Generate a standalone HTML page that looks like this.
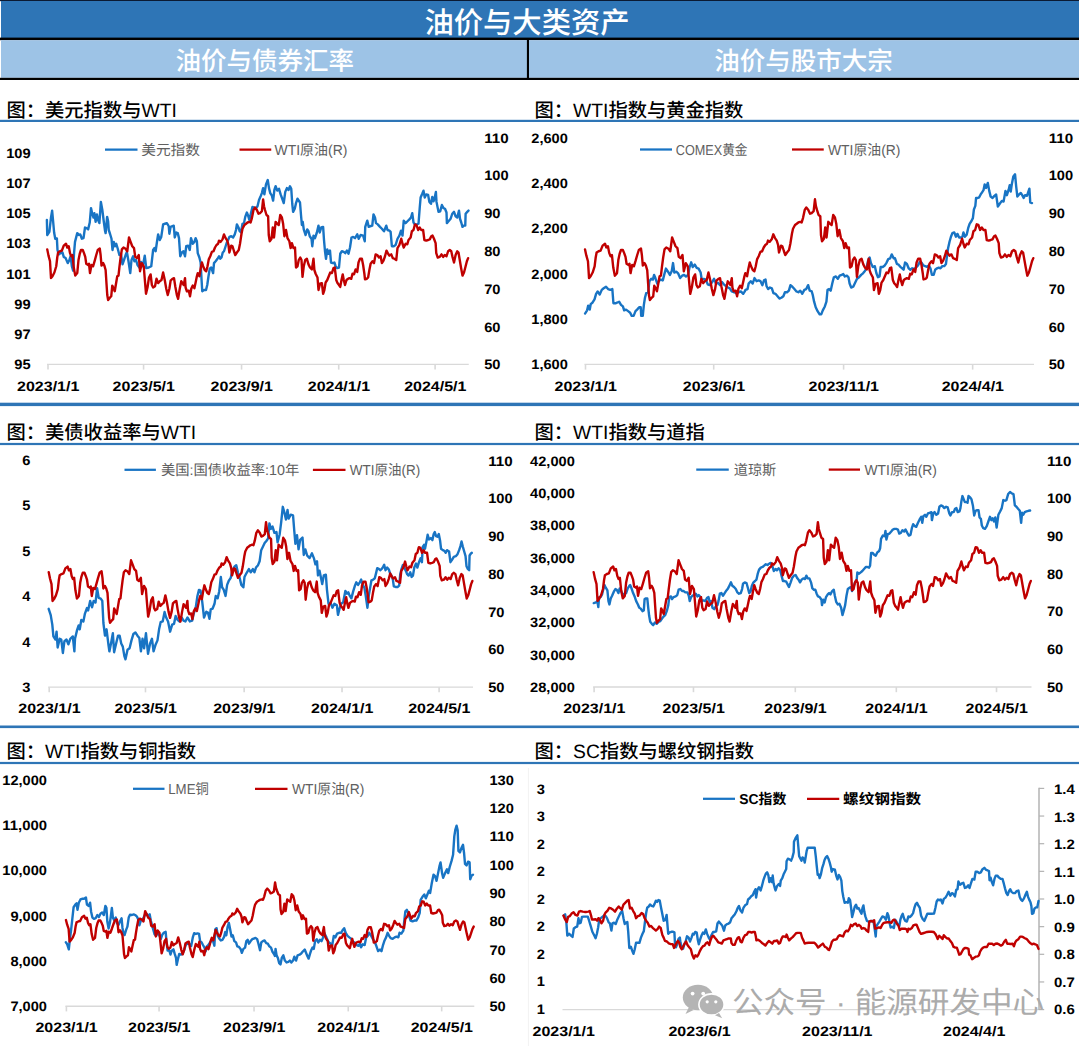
<!DOCTYPE html>
<html lang="zh-CN"><head><meta charset="utf-8"><title>油价与大类资产</title>
<style>html,body{margin:0;padding:0;background:#fff}body{width:1080px;height:1046px;overflow:hidden}svg{display:block}</style></head>
<body>
<svg width="1080" height="1046" viewBox="0 0 1080 1046" font-family='"Liberation Sans", "Noto Sans CJK SC", sans-serif' text-rendering="geometricPrecision">
<rect x="0" y="0" width="1079" height="1.2" fill="#0b1a33"/>
<rect x="1" y="1" width="1078" height="37" fill="#2E75B6"/>
<rect x="0" y="37.6" width="1079" height="2.6" fill="#000"/>
<rect x="1" y="40.2" width="1078" height="37.6" fill="#9DC3E6"/>
<rect x="0" y="77.8" width="1079" height="2.2" fill="#000"/>
<rect x="526.9" y="40" width="2.1" height="38" fill="#000"/>
<text x="527" y="33.1" font-size="29.3" font-weight="500" fill="#fff" text-anchor="middle">油价与大类资产</text>
<text x="264.7" y="69.6" font-size="25.5" font-weight="500" fill="#fff" text-anchor="middle">油价与债券汇率</text>
<text x="803.5" y="69.6" font-size="25.5" font-weight="500" fill="#fff" text-anchor="middle">油价与股市大宗</text>
<text x="6.5" y="116.6" font-size="19.3" font-weight="500" fill="#000">图：美元指数与WTI</text>
<text x="534.5" y="116.6" font-size="19.3" font-weight="500" fill="#000">图：WTI指数与黄金指数</text>
<rect x="0" y="119.8" width="1079" height="2.2" fill="#2E75B6"/>
<rect x="0" y="402.7" width="1079" height="3.4" fill="#2E75B6"/>
<text x="6.5" y="438.9" font-size="19.3" font-weight="500" fill="#000">图：美债收益率与WTI</text>
<text x="534.5" y="438.9" font-size="19.3" font-weight="500" fill="#000">图：WTI指数与道指</text>
<rect x="0" y="442.9" width="1079" height="2.2" fill="#2E75B6"/>
<rect x="0" y="725.5" width="1079" height="2.6" fill="#2E75B6"/>
<text x="6.5" y="757.6" font-size="19.3" font-weight="500" fill="#000">图：WTI指数与铜指数</text>
<text x="534.5" y="757.6" font-size="19.3" font-weight="500" fill="#000">图：SC指数与螺纹钢指数</text>
<rect x="0" y="761.9" width="1079" height="2.2" fill="#2E75B6"/>
<line x1="47" y1="364.4" x2="468.75" y2="364.4" stroke="#D9D9D9" stroke-width="1.4"/>
<line x1="48" y1="364.4" x2="48" y2="369.6" stroke="#D9D9D9" stroke-width="1.6"/>
<text x="48.2" y="391.1" font-size="13.7" font-weight="bold" fill="#000" text-anchor="middle" textLength="62.3" lengthAdjust="spacingAndGlyphs">2023/1/1</text>
<line x1="143.58" y1="364.4" x2="143.58" y2="369.6" stroke="#D9D9D9" stroke-width="1.6"/>
<text x="143.78" y="391.1" font-size="13.7" font-weight="bold" fill="#000" text-anchor="middle" textLength="62.3" lengthAdjust="spacingAndGlyphs">2023/5/1</text>
<line x1="241.55" y1="364.4" x2="241.55" y2="369.6" stroke="#D9D9D9" stroke-width="1.6"/>
<text x="241.75" y="391.1" font-size="13.7" font-weight="bold" fill="#000" text-anchor="middle" textLength="62.3" lengthAdjust="spacingAndGlyphs">2023/9/1</text>
<line x1="338.72" y1="364.4" x2="338.72" y2="369.6" stroke="#D9D9D9" stroke-width="1.6"/>
<text x="338.92" y="391.1" font-size="13.7" font-weight="bold" fill="#000" text-anchor="middle" textLength="62.3" lengthAdjust="spacingAndGlyphs">2024/1/1</text>
<line x1="435.1" y1="364.4" x2="435.1" y2="369.6" stroke="#D9D9D9" stroke-width="1.6"/>
<text x="435.3" y="391.1" font-size="13.7" font-weight="bold" fill="#000" text-anchor="middle" textLength="62.3" lengthAdjust="spacingAndGlyphs">2024/5/1</text>
<text x="30.6" y="157.7" font-size="13.7" font-weight="bold" fill="#000" text-anchor="end" textLength="24.45" lengthAdjust="spacingAndGlyphs">109</text>
<text x="30.6" y="187.93" font-size="13.7" font-weight="bold" fill="#000" text-anchor="end" textLength="24.45" lengthAdjust="spacingAndGlyphs">107</text>
<text x="30.6" y="218.16" font-size="13.7" font-weight="bold" fill="#000" text-anchor="end" textLength="24.45" lengthAdjust="spacingAndGlyphs">105</text>
<text x="30.6" y="248.39" font-size="13.7" font-weight="bold" fill="#000" text-anchor="end" textLength="24.45" lengthAdjust="spacingAndGlyphs">103</text>
<text x="30.6" y="278.61" font-size="13.7" font-weight="bold" fill="#000" text-anchor="end" textLength="24.45" lengthAdjust="spacingAndGlyphs">101</text>
<text x="30.6" y="308.84" font-size="13.7" font-weight="bold" fill="#000" text-anchor="end" textLength="16.3" lengthAdjust="spacingAndGlyphs">99</text>
<text x="30.6" y="339.07" font-size="13.7" font-weight="bold" fill="#000" text-anchor="end" textLength="16.3" lengthAdjust="spacingAndGlyphs">97</text>
<text x="30.6" y="369.3" font-size="13.7" font-weight="bold" fill="#000" text-anchor="end" textLength="16.3" lengthAdjust="spacingAndGlyphs">95</text>
<text x="484.2" y="142.6" font-size="13.7" font-weight="bold" fill="#000" textLength="24.45" lengthAdjust="spacingAndGlyphs">110</text>
<text x="484.2" y="180.38" font-size="13.7" font-weight="bold" fill="#000" textLength="24.45" lengthAdjust="spacingAndGlyphs">100</text>
<text x="484.2" y="218.17" font-size="13.7" font-weight="bold" fill="#000" textLength="16.3" lengthAdjust="spacingAndGlyphs">90</text>
<text x="484.2" y="255.95" font-size="13.7" font-weight="bold" fill="#000" textLength="16.3" lengthAdjust="spacingAndGlyphs">80</text>
<text x="484.2" y="293.73" font-size="13.7" font-weight="bold" fill="#000" textLength="16.3" lengthAdjust="spacingAndGlyphs">70</text>
<text x="484.2" y="331.52" font-size="13.7" font-weight="bold" fill="#000" textLength="16.3" lengthAdjust="spacingAndGlyphs">60</text>
<text x="484.2" y="369.3" font-size="13.7" font-weight="bold" fill="#000" textLength="16.3" lengthAdjust="spacingAndGlyphs">50</text>
<polyline points="46.88,220 47.25,235 49.38,231.88 51,217.5 52.12,210.62 53.12,221.25 54.12,232.5 55.25,238.75 56.88,238.5 57.5,250 58.75,254.38 60.62,253.12 62.5,252.5 63.75,256.88 65.62,258.12 67.75,263.12 69.38,260 70.62,256.25 71.88,266.25 73.12,270.62 74,253.75 75,241.88 77.25,233.12 78.75,235 80.25,234.38 81.88,238.75 83.5,238.12 85,227.5 86.5,228.12 88.12,229.38 89.75,222.5 91,208.12 92.25,213.75 93.5,217.5 94.38,213.12 95.62,221.88 96.88,214.38 98.12,220 99.38,223.12 100.88,201.88 102.25,209.38 103.75,221.25 105,230.62 105.62,233.12 107.12,216.88 108.12,221.25 108.75,230 110,233.75 111.5,238.75 112.5,250 113.75,241.88 115,246.25 116.25,243.75 117.75,248.75 119.38,255 121,253.75 122.5,264.38 124,260 125.62,255 126.88,251.88 128.5,261.25 130.25,273.12 131.5,260 133.12,256.25 134.38,261.25 136,260 137.5,265 139.38,267.5 141,261.88 142.75,266.25 144.75,255.62 146.25,268.12 148.75,267.5 151.25,266.25 153.12,250 154.38,248.12 155.62,251.25 156.88,242.5 158.12,234.38 159.75,240 161.25,236.88 163.12,224.38 165,223.75 166.88,223.12 168.75,226.25 169.38,233.75 170.62,226.88 173.75,225.62 174.75,237.5 176.25,232.5 177.75,233.12 179,238.12 180.25,256.25 181.88,252.5 183.5,251.25 185,256.25 186.25,246.25 188.12,245.62 189.75,250 191,238.12 192.75,243.75 194.38,241.88 195.62,238.12 196.88,241.25 197.75,253.12 199.38,257.5 200.62,262.5 201.5,278.75 202.25,291.25 204,290 206,290 207.25,285 208.5,276.25 209.75,268.75 211.25,267.5 213.12,273.12 214,263.12 215.62,261.25 217.5,258.75 219,256.25 220.25,258.75 221.5,257.5 222.75,252.5 224,251.25 225.62,246.25 226.88,242.5 228.12,240 229.38,236.88 231.25,236.25 233.12,237.5 234.75,234.38 236,230 236.88,224.38 238.5,227.5 239.75,231.25 241,232.5 242.5,223.75 244,223.12 245.25,216.88 246.88,212.5 248.12,215.62 249.38,220 251,213.12 252.5,206.88 254,207.5 255.62,208.75 257.5,206.25 259,200 260.62,196.25 261.88,193.12 263.12,188.12 264.38,194.38 266,184.38 267.75,180 269,188.12 270.25,193.12 271.88,195.62 273.12,200.62 274.38,190 275.62,186.25 277.25,190.62 279,188.75 280.62,194.38 282.25,198.75 283.75,203.12 285.25,191.88 286.88,188.12 288.5,190 290,186.25 291.25,188.75 292.25,203.75 293.12,211.88 294.75,208.75 296,203.12 297.5,198.75 300,202.5 301,215 301.88,225 302.75,221.88 303.75,229.38 305.62,235 307.25,229.38 308.5,231.25 309.75,236.25 311.5,238.75 312.25,246.25 313.5,235.62 315,238.12 316.88,232.5 318.5,225.62 319.75,232.5 321.25,227.5 323.12,226.88 324,240 325,251.25 326,258.75 327.25,249.38 328.5,253.75 330,250.62 331,262.5 332.75,263.12 334.38,262.5 335.62,266.25 337.25,268.12 339,267.5 340.25,253.75 341.88,251.25 343.75,251.88 345.25,253.12 346.88,250.62 348.5,253.75 350,247.5 351.5,237.5 353.12,236.88 355,238.12 357.25,234.38 358.75,238.75 360.62,235 363.12,235.62 364.75,241.25 365.25,226.88 367.25,220.62 368.75,226.88 370.25,226.25 372.25,225.62 373.5,214.38 375,217.5 376,223.12 377.75,224.38 380,226.88 381.88,228.75 384,231.25 386.25,225.62 387.5,230 389.38,230.62 390.62,231.88 391.88,246.25 393.75,246.25 395.62,245 397.5,238.75 399.38,235.62 401,230.62 402.5,235.62 403.75,220.62 405.62,223.12 407.5,221.25 409.38,219.38 411,217.5 412.25,213.12 413.5,222.5 415,224.38 416.88,224.38 418.5,223.75 419.75,207.5 420.62,197.5 422.25,193.75 423.5,190.62 424.75,197.5 426.25,194.38 428.12,195 429.38,201.88 431,203.75 432.25,196.88 433.5,201.25 434.75,197.5 435.88,191.88 436.5,201.88 437.5,206.88 438.5,211.88 440.25,211.25 441.88,205 443.5,208.12 445,208.75 446.5,212.5 446.88,223.12 448.5,221.25 450.62,218.75 452.25,213.75 454,211.88 455.62,216.25 457.25,217.5 459,210.62 460,218.75 461.25,222.5 462.5,226.88 463.75,225.62 465.25,225.62 465.62,213.75 467.25,211.88 468.5,210.62" fill="none" stroke="#1874C4" stroke-width="2.4" stroke-linejoin="round" stroke-linecap="round"/>
<polyline points="47.25,249.38 48.5,255.62 50,261.25 51,278.12 52.5,276.25 54.38,272.5 56.25,266.25 57.25,257.5 58.12,252.5 60,251.25 61.88,250.62 63.75,245.62 66,243.75 67.25,247.5 68.75,246.25 70,253.12 71.25,256.25 72.5,255 73.75,267.5 75.25,275.62 77.25,273.12 78.5,260 79.75,253.75 81,250 82.75,250 84,253.12 85.25,256.88 86.25,263.75 88.12,265 89,263.75 90,273.12 91.5,265 93.12,266.25 94.75,260.62 96.25,255 97.75,250 99.75,248.5 100.62,255 101.5,265.62 103.12,263.12 104.38,265.62 105.62,270 106.5,283.75 107.25,295 108.12,300 110,297.5 111.25,296.25 112.25,285.62 113.75,288.75 114.75,291.25 116,283.75 117.25,276.25 118.5,275.62 119.38,267.5 120.62,257.5 121.88,249.38 123.5,247.5 125.62,248.75 127.25,251.25 129,237.5 130.62,241.88 132.25,246.25 134,248.12 135.25,256.88 136.88,258.12 138.75,255 140,271.25 141.88,263.12 143.75,266.25 144.75,278.75 146,293.75 147.5,287.5 149,277.5 150.62,274.38 151.88,285 153.12,287.5 155,286.25 156.5,278.75 158.12,283.12 159.75,281.25 161.5,280 163.12,272.5 164.75,280 166.25,288.75 167.75,295 169.38,288.75 170.62,280.62 172.5,278.75 174,278.12 175.25,286.25 176.88,295 178.12,298.75 179.75,288.75 181.25,281.25 182.5,283.12 183.75,285 185,278.12 185.62,287.5 186.88,291.25 188.75,290.62 190,296.25 191.25,288.75 192.75,285.62 194.38,288.12 195.62,282.5 196.88,276.25 197.75,273.12 199.38,276.25 200.62,268.75 201.88,262.5 203.12,266.25 204.75,270 206.25,271.25 207.5,266.25 208.75,259.38 210.25,256.25 211.88,251.88 213.5,251.25 215,247.5 216.5,245 218.12,243.75 219,240.62 220.62,241.88 222.5,239.38 224,234.38 225.62,238.12 227.25,240.62 228.5,245 229.38,252.5 231.25,245.62 232.5,246.25 234,251.25 235.25,255 236.88,252.5 238.75,250 240,243.75 241.5,233.75 242.5,228.75 244.38,225 246,223.75 247.5,222.5 249.38,221.88 250.62,222.5 251.88,218.12 253.5,210 255,207.5 256.88,210 258.5,213.75 260,213.12 261.88,211.25 263.12,199.38 264,206.25 265,210 266.5,215 268.12,216.25 268.75,235 269.75,241.25 271.5,238.75 272.75,227.5 274,237.5 275.62,221.88 277.25,223.75 278.75,225 280.25,215 281.88,217.5 283.12,223.75 284.38,236.25 286,230 287.5,238.12 289.38,241.25 290.62,248.12 291.88,243.12 293.5,248.12 295,247.5 296,267.5 297.5,266.25 298.75,260 300.25,257.5 301.5,260 302.5,276.88 303.75,266.25 305.25,260 306.88,258.75 308.5,264.38 310,267.5 311.88,269.38 313.5,258.75 314.38,270 315.62,273.75 317.5,277.5 318.5,290 320,283.75 321.88,283.12 323.12,293.75 324.38,290 325.62,282.5 327.25,280 328.75,276.25 330.25,272.5 331.88,273.12 333.5,268.12 334.75,267.5 336.25,280 337.5,283.12 339,285 340.25,286.88 341.5,280 342.75,274.38 343.75,280 345,285 346.5,280 348.12,278.75 349.38,278.12 351.25,278.75 352.5,273.75 354,274.38 355.62,269.38 357.25,271.88 358.5,262.5 360,258.75 361.88,258.75 363.12,265 364.38,273.75 365,279.38 366.88,278.75 368.12,277.5 369.38,270 370.62,263.75 372.5,261.25 374,263.12 375.62,254.38 377.25,255 379,257.5 380.62,256.25 381.88,263.12 383.5,260.62 385,256.25 386.5,250.62 388.12,253.75 389.38,255.62 391.25,254.38 392.75,258.12 394.38,258.75 396.25,260 397.5,248.12 399.38,245 401.25,238.75 402.5,243.75 403.75,247.5 405.62,243.75 407.25,244.38 408.5,240 410.62,237.5 411.88,231.25 413.5,230 414.75,225 415,224.38 416.5,225 418.12,230 419.75,227.5 421.25,230 423.12,230 424.38,240 426.25,240.62 428.12,240 429.75,239.38 431.25,236.25 432.5,235.62 434,238.75 435.62,243.12 436.25,253.12 437.75,257.5 439.75,256.88 441.5,254.38 443.12,256.88 444.75,255 446.5,256.25 448.12,251.25 449.75,250 451.25,251.25 452.5,256.88 454,262.5 455.62,255 457.25,251.25 458.5,252.5 459.75,260 461,267.5 462.5,275.62 464,272.5 465.62,266.25 466.88,261.25 468.12,258.12" fill="none" stroke="#C00000" stroke-width="2.4" stroke-linejoin="round" stroke-linecap="round"/>
<line x1="105" y1="149.5" x2="137.5" y2="149.5" stroke="#1874C4" stroke-width="2.25"/>
<text x="141.25" y="154.5" font-size="14.4" fill="#606060" textLength="58.75" lengthAdjust="spacingAndGlyphs">美元指数</text>
<line x1="239.5" y1="149.5" x2="271.25" y2="149.5" stroke="#C00000" stroke-width="2.25"/>
<text x="274.5" y="154.5" font-size="14.4" fill="#606060" textLength="73" lengthAdjust="spacingAndGlyphs">WTI原油(R)</text>
<line x1="584.5" y1="364.4" x2="1034" y2="364.4" stroke="#D9D9D9" stroke-width="1.4"/>
<line x1="585.5" y1="364.4" x2="585.5" y2="369.6" stroke="#D9D9D9" stroke-width="1.6"/>
<text x="585.7" y="391.1" font-size="13.7" font-weight="bold" fill="#000" text-anchor="middle" textLength="62.3" lengthAdjust="spacingAndGlyphs">2023/1/1</text>
<line x1="713.7" y1="364.4" x2="713.7" y2="369.6" stroke="#D9D9D9" stroke-width="1.6"/>
<text x="713.9" y="391.1" font-size="13.7" font-weight="bold" fill="#000" text-anchor="middle" textLength="62.3" lengthAdjust="spacingAndGlyphs">2023/6/1</text>
<line x1="843.6" y1="364.4" x2="843.6" y2="369.6" stroke="#D9D9D9" stroke-width="1.6"/>
<text x="843.8" y="391.1" font-size="13.7" font-weight="bold" fill="#000" text-anchor="middle" textLength="70.45" lengthAdjust="spacingAndGlyphs">2023/11/1</text>
<line x1="972.65" y1="364.4" x2="972.65" y2="369.6" stroke="#D9D9D9" stroke-width="1.6"/>
<text x="972.85" y="391.1" font-size="13.7" font-weight="bold" fill="#000" text-anchor="middle" textLength="62.3" lengthAdjust="spacingAndGlyphs">2024/4/1</text>
<text x="567.9" y="142.6" font-size="13.7" font-weight="bold" fill="#000" text-anchor="end" textLength="36.6" lengthAdjust="spacingAndGlyphs">2,600</text>
<text x="567.9" y="187.94" font-size="13.7" font-weight="bold" fill="#000" text-anchor="end" textLength="36.6" lengthAdjust="spacingAndGlyphs">2,400</text>
<text x="567.9" y="233.28" font-size="13.7" font-weight="bold" fill="#000" text-anchor="end" textLength="36.6" lengthAdjust="spacingAndGlyphs">2,200</text>
<text x="567.9" y="278.62" font-size="13.7" font-weight="bold" fill="#000" text-anchor="end" textLength="36.6" lengthAdjust="spacingAndGlyphs">2,000</text>
<text x="567.9" y="323.96" font-size="13.7" font-weight="bold" fill="#000" text-anchor="end" textLength="36.6" lengthAdjust="spacingAndGlyphs">1,800</text>
<text x="567.9" y="369.3" font-size="13.7" font-weight="bold" fill="#000" text-anchor="end" textLength="36.6" lengthAdjust="spacingAndGlyphs">1,600</text>
<text x="1048.7" y="142.6" font-size="13.7" font-weight="bold" fill="#000" textLength="24.45" lengthAdjust="spacingAndGlyphs">110</text>
<text x="1048.7" y="180.38" font-size="13.7" font-weight="bold" fill="#000" textLength="24.45" lengthAdjust="spacingAndGlyphs">100</text>
<text x="1048.7" y="218.17" font-size="13.7" font-weight="bold" fill="#000" textLength="16.3" lengthAdjust="spacingAndGlyphs">90</text>
<text x="1048.7" y="255.95" font-size="13.7" font-weight="bold" fill="#000" textLength="16.3" lengthAdjust="spacingAndGlyphs">80</text>
<text x="1048.7" y="293.73" font-size="13.7" font-weight="bold" fill="#000" textLength="16.3" lengthAdjust="spacingAndGlyphs">70</text>
<text x="1048.7" y="331.52" font-size="13.7" font-weight="bold" fill="#000" textLength="16.3" lengthAdjust="spacingAndGlyphs">60</text>
<text x="1048.7" y="369.3" font-size="13.7" font-weight="bold" fill="#000" textLength="16.3" lengthAdjust="spacingAndGlyphs">50</text>
<polyline points="585.05,313.53 587.1,310.37 588.2,305.64 589.78,309.59 590.72,304.07 592.62,302.49 594.51,299.34 596.09,293.82 597.66,291.45 599.71,294.6 601.76,289.87 603.66,288.3 606.02,286.72 608.07,289.08 610.28,289.87 612.33,289.08 613.43,303.28 615.48,303.28 617.53,302.49 619.11,301.7 621,304.85 622.9,306.43 624.16,310.37 626.05,309.59 628.1,311.16 630.15,312.74 631.73,315.89 633.62,315.89 635.51,311.16 637.09,309.59 639.14,307.22 640.72,307.22 641.19,315.89 642.77,315.89 643.87,304.85 644.97,297.76 646.24,293.03 648.13,292.24 649.39,281.2 651.28,278.83 652.86,279.62 654.12,274.89 655.38,278.05 657.27,283.56 658.85,281.2 660.74,279.62 662.79,280.41 664.37,274.1 665.95,268.58 668,271.74 669.89,274.89 671.78,270.95 673.05,263.06 674.31,272.53 676.51,271.74 678.09,273.31 680.14,278.05 682.19,275.68 684.08,274.89 685.98,276.47 688.03,274.89 689.6,267.01 691.18,262.27 692.76,267.01 694.81,264.64 696.7,267.79 698.59,268.58 700.64,272.53 701.75,279.62 703.8,278.83 705.85,279.62 707.74,284.35 709.63,285.14 711.68,282.78 714.05,278.83 715.94,283.56 717.99,282.78 720.04,285.14 721.93,281.99 723.83,284.35 725.88,285.93 727.93,287.51 729.82,288.3 731.71,291.45 734.23,292.24 736.13,293.03 738.49,292.24 740.86,291.45 743.22,293.82 744.8,291.45 745.52,289.87 747.57,289.08 748.67,283.56 750.72,281.2 752.62,283.56 754.51,278.05 756.56,281.2 758.61,280.41 760.5,281.2 762.39,285.14 763.97,280.41 765.55,279.62 766.49,285.93 768.07,289.08 769.96,287.51 771.86,288.3 773.43,293.03 775.48,293.82 777.53,296.18 779.43,298.55 781.32,297.76 783.37,296.18 784.95,292.24 787,292.24 788.89,290.66 790.47,285.14 792.36,286.72 794.41,289.08 796.46,291.45 798.35,292.24 800.24,290.66 802.29,293.82 804.34,289.87 806.24,289.08 808.13,285.14 809.71,290.66 811.76,291.45 812.86,295.39 814.12,301.7 815.7,307.22 817.59,311.16 819.64,314.32 821.22,314.32 822.79,310.37 824.84,306.43 826.42,301.7 827.53,289.87 829.1,289.08 830.68,290.66 832.26,283.56 833.83,277.26 835.88,276.47 837.78,278.83 839.67,275.68 841.72,274.89 843.3,274.1 844.87,276.47 846.92,275.68 848.5,277.26 849.6,283.56 851.18,287.51 853.23,286.72 855.12,282.78 857.02,278.83 859.07,277.26 861.12,274.89 863.01,273.31 864.9,270.95 866.48,268.58 868.06,260.7 869.63,257.54 870.89,263.06 872.79,267.01 874.84,266.22 876.41,273.31 877.99,277.26 879.57,276.47 880.67,267.01 882.72,267.01 884.77,265.43 886.35,263.06 888.24,259.12 890.13,258.33 891.71,254.39 893.76,258.33 895.02,258.26 896.88,263.99 898.6,264.71 900.33,266.86 902.19,268.29 903.62,269.73 905.06,262.56 906.92,263.99 908.64,268.29 910.36,269.73 912.23,268.29 914.38,269.01 916.1,267.58 917.97,265.43 919.83,261.84 921.55,262.56 923.27,265.43 925.14,266.14 927,266.86 928.72,265.43 930.44,268.29 931.88,274.75 933.74,274.75 935.17,269.73 937.04,268.29 938.76,267.58 940.48,268.29 942.34,266.14 944.21,266.14 945.93,263.99 947.08,255.39 948.08,248.22 949.52,241.76 950.95,236.74 952.38,233.16 954.25,232.44 955.97,236.74 957.4,233.88 959.12,237.46 960.99,237.46 962.42,236.74 963.43,232.44 964.86,236.74 966.72,234.59 968.16,228.14 969.59,223.84 971.46,220.97 972.89,218.1 973.9,209.5 975.33,205.91 976.05,198.02 977.77,198.02 979.2,197.31 980.64,194.44 982.07,192.29 983.5,190.14 984.65,184.4 986.08,187.98 987.81,182.97 989.24,190.85 990.67,196.59 992.54,198.02 994.4,195.87 996.12,194.44 997.84,206.63 999.71,203.76 1001.86,200.89 1003.58,201.61 1005.45,190.85 1006.88,195.15 1008.74,189.42 1009.75,185.12 1010.75,191.57 1011.9,183.68 1013.33,176.51 1015.05,174.36 1016.2,186.55 1017.35,196.59 1019.07,194.44 1020.79,193 1022.22,195.15 1023.66,198.02 1025.09,195.15 1026.96,195.87 1027.96,193 1029.39,188.7 1030.26,202.33 1031.98,203.04" fill="none" stroke="#1874C4" stroke-width="2.4" stroke-linejoin="round" stroke-linecap="round"/>
<polyline points="585.03,249.38 586.37,255.63 587.96,261.27 589.03,278.17 590.63,276.29 592.63,272.54 594.62,266.28 595.69,257.51 596.61,252.5 598.61,251.25 600.62,250.62 602.61,245.61 605.01,243.74 606.34,247.49 607.93,246.24 609.27,253.12 610.6,256.26 611.93,255.01 613.26,267.53 614.86,275.66 616.99,273.16 618.32,260.02 619.65,253.75 620.98,250 622.85,250 624.18,253.12 625.51,256.89 626.58,263.77 628.57,265.02 629.5,263.77 630.57,273.16 632.17,265.02 633.89,266.28 635.63,260.64 637.23,255.01 638.82,250 640.95,248.5 641.88,255.01 642.82,265.65 644.54,263.14 645.89,265.65 647.21,270.03 648.14,283.81 648.94,295.08 649.87,300.09 651.87,297.58 653.2,296.33 654.27,285.68 655.87,288.82 656.93,291.32 658.26,283.81 659.6,276.29 660.93,275.66 661.86,267.53 663.18,257.51 664.53,249.38 666.25,247.49 668.51,248.75 670.25,251.25 672.11,237.48 673.84,241.86 675.57,246.24 677.44,248.11 678.77,256.89 680.5,258.13 682.5,255.01 683.83,271.29 685.83,263.14 687.82,266.28 688.89,278.8 690.22,293.83 691.82,287.56 693.41,277.55 695.14,274.42 696.48,285.06 697.8,287.56 699.81,286.31 701.4,278.8 703.13,283.18 704.86,281.3 706.73,280.05 708.45,272.54 710.19,280.05 711.79,288.82 713.39,295.08 715.12,288.82 716.44,280.67 718.45,278.8 720.04,278.17 721.37,286.31 723.11,295.08 724.43,298.83 726.17,288.82 727.77,281.3 729.1,283.18 730.43,285.06 731.76,278.17 732.42,287.56 733.76,291.32 735.75,290.69 737.09,296.33 738.42,288.82 740.01,285.68 741.75,288.19 743.07,282.56 744.41,276.29 745.34,273.16 747.08,276.29 748.4,268.78 749.74,262.52 751.06,266.28 752.8,270.03 754.39,271.29 755.73,266.28 757.06,259.39 758.66,256.26 760.39,251.88 762.12,251.25 763.71,247.49 765.31,244.99 767.04,243.74 767.98,240.6 769.7,241.86 771.7,239.36 773.3,234.35 775.03,238.1 776.76,240.6 778.09,244.99 779.03,252.5 781.02,245.61 782.36,246.24 783.95,251.25 785.28,255.01 787.02,252.5 789.01,250 790.34,243.74 791.94,233.72 793.01,228.71 795.01,224.95 796.73,223.7 798.33,222.45 800.34,221.83 801.66,222.45 803,218.06 804.72,209.93 806.32,207.42 808.32,209.93 810.05,213.68 811.65,213.05 813.65,211.18 814.97,199.29 815.91,206.17 816.97,209.93 818.57,214.94 820.3,216.19 820.97,234.97 822.03,241.23 823.9,238.73 825.23,227.46 826.56,237.48 828.29,221.83 830.02,223.7 831.62,224.95 833.22,214.94 834.95,217.44 836.27,223.7 837.62,236.22 839.34,229.96 840.94,238.1 842.94,241.23 844.26,248.11 845.6,243.11 847.33,248.11 848.93,247.49 849.99,267.53 851.59,266.28 852.92,260.02 854.52,257.51 855.85,260.02 856.92,276.93 858.25,266.28 859.85,260.02 861.58,258.76 863.31,264.4 864.91,267.53 866.91,269.41 868.63,258.76 869.57,270.03 870.89,273.79 872.89,277.55 873.96,290.07 875.56,283.81 877.56,283.18 878.88,293.83 880.22,290.07 881.54,282.56 883.28,280.05 884.88,276.29 886.47,272.54 888.21,273.16 889.94,268.15 891.27,267.53 892.87,280.05 894.2,283.18 895.8,285.06 897.13,286.94 898.46,280.05 899.79,274.42 900.85,280.05 902.19,285.06 903.78,280.05 905.51,278.8 906.85,278.17 908.84,278.8 910.17,273.79 911.77,274.42 913.5,269.41 915.23,271.92 916.57,262.52 918.16,258.76 920.17,258.76 921.49,265.02 922.83,273.79 923.49,279.43 925.49,278.8 926.81,277.55 928.15,270.03 929.48,263.77 931.48,261.27 933.08,263.14 934.8,254.39 936.54,255.01 938.4,257.51 940.13,256.26 941.47,263.14 943.19,260.64 944.79,256.26 946.39,250.62 948.12,253.75 949.46,255.63 951.45,254.39 953.05,258.13 954.78,258.76 956.78,260.02 958.11,248.11 960.11,244.99 962.1,238.73 963.43,243.74 964.76,247.49 966.76,243.74 968.49,244.37 969.82,239.98 972.08,237.48 973.42,231.22 975.15,229.96 976.48,224.95 976.75,224.33 978.35,224.95 980.07,229.96 981.81,227.46 983.4,229.96 985.4,229.96 986.74,239.98 988.73,240.6 990.72,239.98 992.46,239.36 994.06,236.22 995.39,235.59 996.99,238.73 998.71,243.11 999.38,253.12 1000.98,257.51 1003.11,256.89 1004.97,254.39 1006.7,256.89 1008.44,255.01 1010.3,256.26 1012.03,251.25 1013.76,250 1015.36,251.25 1016.69,256.89 1018.29,262.52 1020.01,255.01 1021.75,251.25 1023.08,252.5 1024.41,260.02 1025.74,267.53 1027.34,275.66 1028.94,272.54 1030.67,266.28 1032.01,261.27 1033.33,258.13" fill="none" stroke="#C00000" stroke-width="2.4" stroke-linejoin="round" stroke-linecap="round"/>
<line x1="640" y1="149.5" x2="672" y2="149.5" stroke="#1874C4" stroke-width="2.25"/>
<text x="675.75" y="154.5" font-size="14.4" fill="#606060" textLength="71.75" lengthAdjust="spacingAndGlyphs">COMEX黄金</text>
<line x1="792" y1="149.5" x2="823.75" y2="149.5" stroke="#C00000" stroke-width="2.25"/>
<text x="828" y="154.5" font-size="14.4" fill="#606060" textLength="72.5" lengthAdjust="spacingAndGlyphs">WTI原油(R)</text>
<line x1="48.2" y1="687.15" x2="473" y2="687.15" stroke="#D9D9D9" stroke-width="1.4"/>
<line x1="49.2" y1="687.15" x2="49.2" y2="692.35" stroke="#D9D9D9" stroke-width="1.6"/>
<text x="49.4" y="713" font-size="13.7" font-weight="bold" fill="#000" text-anchor="middle" textLength="62.3" lengthAdjust="spacingAndGlyphs">2023/1/1</text>
<line x1="145.47" y1="687.15" x2="145.47" y2="692.35" stroke="#D9D9D9" stroke-width="1.6"/>
<text x="145.67" y="713" font-size="13.7" font-weight="bold" fill="#000" text-anchor="middle" textLength="62.3" lengthAdjust="spacingAndGlyphs">2023/5/1</text>
<line x1="244.15" y1="687.15" x2="244.15" y2="692.35" stroke="#D9D9D9" stroke-width="1.6"/>
<text x="244.35" y="713" font-size="13.7" font-weight="bold" fill="#000" text-anchor="middle" textLength="62.3" lengthAdjust="spacingAndGlyphs">2023/9/1</text>
<line x1="342.03" y1="687.15" x2="342.03" y2="692.35" stroke="#D9D9D9" stroke-width="1.6"/>
<text x="342.23" y="713" font-size="13.7" font-weight="bold" fill="#000" text-anchor="middle" textLength="62.3" lengthAdjust="spacingAndGlyphs">2024/1/1</text>
<line x1="439.1" y1="687.15" x2="439.1" y2="692.35" stroke="#D9D9D9" stroke-width="1.6"/>
<text x="439.3" y="713" font-size="13.7" font-weight="bold" fill="#000" text-anchor="middle" textLength="62.3" lengthAdjust="spacingAndGlyphs">2024/5/1</text>
<text x="30.5" y="465.1" font-size="13.7" font-weight="bold" fill="#000" text-anchor="end" textLength="8.15" lengthAdjust="spacingAndGlyphs">6</text>
<text x="30.5" y="510.49" font-size="13.7" font-weight="bold" fill="#000" text-anchor="end" textLength="8.15" lengthAdjust="spacingAndGlyphs">5</text>
<text x="30.5" y="555.88" font-size="13.7" font-weight="bold" fill="#000" text-anchor="end" textLength="8.15" lengthAdjust="spacingAndGlyphs">5</text>
<text x="30.5" y="601.27" font-size="13.7" font-weight="bold" fill="#000" text-anchor="end" textLength="8.15" lengthAdjust="spacingAndGlyphs">4</text>
<text x="30.5" y="646.66" font-size="13.7" font-weight="bold" fill="#000" text-anchor="end" textLength="8.15" lengthAdjust="spacingAndGlyphs">4</text>
<text x="30.5" y="692.05" font-size="13.7" font-weight="bold" fill="#000" text-anchor="end" textLength="8.15" lengthAdjust="spacingAndGlyphs">3</text>
<text x="488.2" y="465.5" font-size="13.7" font-weight="bold" fill="#000" textLength="24.45" lengthAdjust="spacingAndGlyphs">110</text>
<text x="488.2" y="503.26" font-size="13.7" font-weight="bold" fill="#000" textLength="24.45" lengthAdjust="spacingAndGlyphs">100</text>
<text x="488.2" y="541.02" font-size="13.7" font-weight="bold" fill="#000" textLength="16.3" lengthAdjust="spacingAndGlyphs">90</text>
<text x="488.2" y="578.77" font-size="13.7" font-weight="bold" fill="#000" textLength="16.3" lengthAdjust="spacingAndGlyphs">80</text>
<text x="488.2" y="616.53" font-size="13.7" font-weight="bold" fill="#000" textLength="16.3" lengthAdjust="spacingAndGlyphs">70</text>
<text x="488.2" y="654.29" font-size="13.7" font-weight="bold" fill="#000" textLength="16.3" lengthAdjust="spacingAndGlyphs">60</text>
<text x="488.2" y="692.05" font-size="13.7" font-weight="bold" fill="#000" textLength="16.3" lengthAdjust="spacingAndGlyphs">50</text>
<polyline points="48.67,608.82 50.72,615.12 52.3,624.59 53.4,636.41 55.45,639.57 56.56,631.68 57.66,647.45 59.71,638.78 61.29,639.57 62.87,652.97 64.44,641.14 66.49,639.57 68.39,644.3 70.28,638.78 72.8,636.41 74.38,651.4 75.01,638.78 77.06,630.11 78.64,625.37 79.74,629.32 81.32,619.85 83.37,621.43 84.95,613.55 87,608.03 88.1,610.39 90.15,600.93 92.04,607.24 93.62,600.93 95.51,602.51 97.09,588.31 98.67,597.78 100.72,598.56 102.29,600.93 103.4,623.01 104.97,635.63 106.55,629.32 108.6,645.88 109.39,651.4 111.28,641.93 112.86,633.26 114.12,652.18 116.49,641.93 118.06,635.63 119.64,635.63 121.22,643.51 122.79,646.66 124.37,656.13 125.48,659.28 127.53,649.82 129.58,648.24 131.47,640.36 133.36,634.05 135.41,632.47 137.46,635.63 139.35,637.99 140.93,651.4 142.51,638.78 144.08,648.24 145.98,633.26 148.03,653.76 150.08,643.51 151.97,638.78 153.55,651.4 155.44,645.09 157.49,640.36 159.07,629.32 160.64,622.22 162.69,621.43 164.59,611.97 166.16,617.49 168.06,621.43 170.11,631.68 172.16,624.59 174.05,623.8 175.63,615.91 177.52,619.85 179.57,621.43 181.62,617.49 183.51,620.64 185.4,621.43 187.45,617.49 189.82,621.43 192.18,620.64 193.76,613.55 195.81,607.24 197.39,596.2 198.97,589.89 200.54,590.68 202.12,600.93 204.01,617.49 206.31,611.7 207.89,612.49 209.46,618.8 210.72,609.34 212.62,608.55 214.51,603.82 215.77,595.93 217.66,598.3 219.24,591.2 220.82,577.01 222.08,587.26 223.66,589.62 225.55,595.93 227.13,584.89 228.7,580.95 230.75,577.79 232.33,570.7 234.38,566.76 236.27,565.18 237.85,572.27 239.43,577.01 241.32,584.89 243.37,587.26 244.47,577.01 246.52,573.06 248.89,569.12 250.78,572.27 252.83,569.12 254.41,572.27 255.98,567.54 258.04,565.18 259.61,561.24 261.19,550.2 262.77,547.04 264.66,543.1 266.55,540.73 268.13,538.37 269.39,523.39 270.97,528.91 272.54,526.54 274.44,532.85 276.49,532.06 277.59,542.31 279.64,534.43 281.22,521.81 282.79,506.83 284.37,512.35 285.95,519.44 287.53,509.98 288.63,518.66 290.68,514.71 293.05,515.5 294.31,531.27 295.41,543.89 296.99,535.21 298.56,549.41 300.14,539.95 302.51,537.58 303.77,554.93 305.35,549.41 307.24,555.72 309.6,558.08 311.97,553.35 313.86,558.08 315.44,564.39 317.02,561.24 317.96,575.43 319.54,570.7 321.12,578.58 322.22,584.1 323.8,575.43 325.85,574.64 326.95,589.62 328.53,603.82 330.58,603.03 332.47,607.76 334.36,603.82 336.89,605.39 337.99,614.85 339.57,608.55 341.14,603.82 343.2,602.24 345.35,590.98 346.96,593.66 348.3,592.32 349.64,595.66 351.38,598.34 353.12,591.65 354.72,586.3 356.33,582.28 358.07,584.96 359.81,582.28 361.15,579.6 362.75,584.96 364.36,587.63 365.7,595.66 367.44,607.71 368.78,595.66 370.52,585.63 371.45,580.27 373.2,579.6 374.8,578.26 376.14,572.91 377.21,568.23 378.82,568.89 380.16,570.23 381.76,568.89 383.1,566.89 384.17,564.88 385.51,570.23 387.12,567.56 388.86,569.56 390.19,573.58 391.53,575.59 392.87,579.6 393.81,586.3 395.55,586.96 397.56,586.96 399.16,585.63 400.23,574.25 401.57,568.89 402.91,564.88 404.25,567.56 405.85,570.9 407.19,574.25 408.53,575.59 410.27,572.24 411.61,576.93 412.95,575.59 414.29,567.56 416.03,563.54 417.37,567.56 418.97,562.2 420.58,558.19 421.92,562.2 422.72,546.81 424.06,544.8 425,548.82 426.33,542.12 427.67,534.76 429.01,539.45 430.75,538.11 432.36,540.12 433.7,534.09 434.77,532.09 436.1,536.1 437.44,536.77 438.78,534.09 440.12,540.79 441.06,548.82 442.8,550.16 444.4,550.82 445.74,552.83 447.08,550.16 449.09,551.49 450.43,562.2 452.17,559.52 453.77,556.85 455.78,556.18 457.52,554.17 459.13,550.16 460.47,546.14 461.54,541.45 462.88,546.81 464.21,551.49 465.55,556.18 466.49,566.22 467.83,568.89 469.17,570.23 469.57,555.51 470.91,553.5 471.84,552.83" fill="none" stroke="#1874C4" stroke-width="2.4" stroke-linejoin="round" stroke-linecap="round"/>
<polyline points="48.75,572.2 50.01,578.45 51.52,584.09 52.52,600.97 54.03,599.1 55.92,595.35 57.81,589.09 58.81,580.33 59.69,575.33 61.58,574.08 63.47,573.44 65.36,568.44 67.62,566.57 68.88,570.32 70.39,569.07 71.65,575.95 72.91,579.08 74.16,577.83 75.42,590.34 76.93,598.47 78.94,595.97 80.2,582.83 81.46,576.58 82.72,572.82 84.48,572.82 85.74,575.95 87,579.71 88,586.59 89.89,587.84 90.77,586.59 91.78,595.97 93.29,587.84 94.92,589.09 96.56,583.46 98.07,577.83 99.58,572.82 101.59,571.32 102.47,577.83 103.35,588.46 104.98,585.96 106.25,588.46 107.5,592.85 108.39,606.61 109.14,617.87 110.02,622.88 111.91,620.38 113.17,619.12 114.17,608.48 115.68,611.62 116.69,614.12 117.95,606.61 119.21,599.1 120.46,598.47 121.35,590.34 122.6,580.33 123.87,572.2 125.5,570.32 127.63,571.57 129.27,574.08 131.03,560.31 132.66,564.69 134.3,569.07 136.06,570.94 137.32,579.71 138.96,580.95 140.85,577.83 142.1,594.1 144,585.96 145.88,589.09 146.88,601.61 148.14,616.62 149.65,610.37 151.16,600.35 152.79,597.23 154.06,607.86 155.31,610.37 157.2,609.11 158.71,601.61 160.34,605.98 161.98,604.11 163.74,602.86 165.37,595.35 167.02,602.86 168.53,611.62 170.04,617.87 171.68,611.62 172.92,603.48 174.82,601.61 176.33,600.97 177.58,609.11 179.22,617.87 180.47,621.63 182.11,611.62 183.62,604.11 184.88,605.98 186.14,607.86 187.4,600.97 188.02,610.37 189.29,614.12 191.17,613.49 192.43,619.12 193.69,611.62 195.2,608.48 196.84,610.99 198.09,605.36 199.36,599.1 200.23,595.97 201.87,599.1 203.12,591.59 204.39,585.34 205.64,589.09 207.28,592.85 208.79,594.1 210.04,589.09 211.3,582.21 212.81,579.08 214.45,574.71 216.08,574.08 217.59,570.32 219.1,567.82 220.73,566.57 221.62,563.43 223.25,564.69 225.14,562.19 226.65,557.19 228.28,560.93 229.92,563.43 231.18,567.82 232.07,575.33 233.95,568.44 235.21,569.07 236.72,574.08 237.98,577.83 239.62,575.33 241.5,572.82 242.76,566.57 244.27,556.56 245.27,551.55 247.17,547.8 248.8,546.54 250.31,545.29 252.2,544.67 253.45,545.29 254.71,540.91 256.34,532.78 257.85,530.28 259.75,532.78 261.38,536.53 262.89,535.9 264.78,534.03 266.03,522.15 266.91,529.03 267.92,532.78 269.43,537.79 271.06,539.04 271.69,557.81 272.7,564.06 274.46,561.56 275.72,550.3 276.98,560.31 278.61,544.67 280.25,546.54 281.76,547.8 283.27,537.79 284.91,540.29 286.16,546.54 287.43,559.06 289.06,552.8 290.57,560.93 292.46,564.06 293.71,570.94 294.98,565.94 296.61,570.94 298.12,570.32 299.12,590.34 300.63,589.09 301.89,582.83 303.4,580.33 304.66,582.83 305.66,599.73 306.92,589.09 308.43,582.83 310.07,581.58 311.7,587.22 313.21,590.34 315.11,592.23 316.74,581.58 317.62,592.85 318.87,596.6 320.76,600.35 321.77,612.87 323.28,606.61 325.17,605.98 326.42,616.62 327.69,612.87 328.94,605.36 330.58,602.86 332.09,599.1 333.6,595.35 335.24,595.97 336.87,590.96 338.13,590.34 339.64,602.86 340.89,605.98 342.4,607.86 343.66,609.74 344.92,602.86 346.18,597.23 347.18,602.86 348.44,607.86 349.95,602.86 351.58,601.61 352.85,600.97 354.73,601.61 355.99,596.6 357.5,597.23 359.13,592.23 360.77,594.73 362.03,585.34 363.54,581.58 365.43,581.58 366.68,587.84 367.95,596.6 368.57,602.24 370.46,601.61 371.71,600.35 372.98,592.85 374.23,586.59 376.12,584.09 377.63,585.96 379.26,577.21 380.9,577.83 382.66,580.33 384.29,579.08 385.56,585.96 387.19,583.46 388.7,579.08 390.21,573.44 391.84,576.58 393.11,578.45 394.99,577.21 396.5,580.95 398.14,581.58 400.03,582.83 401.28,570.94 403.18,567.82 405.06,561.56 406.32,566.57 407.58,570.32 409.46,566.57 411.1,567.2 412.36,562.81 414.49,560.31 415.76,554.05 417.39,552.8 418.65,547.8 418.9,547.18 420.41,547.8 422.04,552.8 423.68,550.3 425.19,552.8 427.07,552.8 428.34,562.81 430.22,563.43 432.1,562.81 433.75,562.19 435.26,559.06 436.51,558.43 438.02,561.56 439.65,565.94 440.29,575.95 441.8,580.33 443.81,579.71 445.57,577.21 447.2,579.71 448.84,577.83 450.6,579.08 452.24,574.08 453.88,572.82 455.39,574.08 456.64,579.71 458.15,585.34 459.78,577.83 461.42,574.08 462.68,575.33 463.94,582.83 465.2,590.34 466.71,598.47 468.22,595.35 469.85,589.09 471.12,584.09 472.37,580.95" fill="none" stroke="#C00000" stroke-width="2.4" stroke-linejoin="round" stroke-linecap="round"/>
<line x1="124.5" y1="469.8" x2="155.9" y2="469.8" stroke="#1874C4" stroke-width="2.25"/>
<text x="160.9" y="474.8" font-size="14.4" fill="#606060" textLength="138.4" lengthAdjust="spacingAndGlyphs">美国:国债收益率:10年</text>
<line x1="312.9" y1="469.8" x2="345.5" y2="469.8" stroke="#C00000" stroke-width="2.25"/>
<text x="349.7" y="474.8" font-size="14.4" fill="#606060" textLength="70.5" lengthAdjust="spacingAndGlyphs">WTI原油(R)</text>
<line x1="593.1" y1="687" x2="1031.5" y2="687" stroke="#D9D9D9" stroke-width="1.4"/>
<line x1="594.1" y1="687" x2="594.1" y2="692.2" stroke="#D9D9D9" stroke-width="1.6"/>
<text x="594.3" y="713" font-size="13.7" font-weight="bold" fill="#000" text-anchor="middle" textLength="62.3" lengthAdjust="spacingAndGlyphs">2023/1/1</text>
<line x1="693.46" y1="687" x2="693.46" y2="692.2" stroke="#D9D9D9" stroke-width="1.6"/>
<text x="693.66" y="713" font-size="13.7" font-weight="bold" fill="#000" text-anchor="middle" textLength="62.3" lengthAdjust="spacingAndGlyphs">2023/5/1</text>
<line x1="795.3" y1="687" x2="795.3" y2="692.2" stroke="#D9D9D9" stroke-width="1.6"/>
<text x="795.5" y="713" font-size="13.7" font-weight="bold" fill="#000" text-anchor="middle" textLength="62.3" lengthAdjust="spacingAndGlyphs">2023/9/1</text>
<line x1="896.32" y1="687" x2="896.32" y2="692.2" stroke="#D9D9D9" stroke-width="1.6"/>
<text x="896.52" y="713" font-size="13.7" font-weight="bold" fill="#000" text-anchor="middle" textLength="62.3" lengthAdjust="spacingAndGlyphs">2024/1/1</text>
<line x1="996.51" y1="687" x2="996.51" y2="692.2" stroke="#D9D9D9" stroke-width="1.6"/>
<text x="996.71" y="713" font-size="13.7" font-weight="bold" fill="#000" text-anchor="middle" textLength="62.3" lengthAdjust="spacingAndGlyphs">2024/5/1</text>
<text x="574.8" y="465.5" font-size="13.7" font-weight="bold" fill="#000" text-anchor="end" textLength="44.75" lengthAdjust="spacingAndGlyphs">42,000</text>
<text x="574.8" y="497.84" font-size="13.7" font-weight="bold" fill="#000" text-anchor="end" textLength="44.75" lengthAdjust="spacingAndGlyphs">40,000</text>
<text x="574.8" y="530.19" font-size="13.7" font-weight="bold" fill="#000" text-anchor="end" textLength="44.75" lengthAdjust="spacingAndGlyphs">38,000</text>
<text x="574.8" y="562.53" font-size="13.7" font-weight="bold" fill="#000" text-anchor="end" textLength="44.75" lengthAdjust="spacingAndGlyphs">36,000</text>
<text x="574.8" y="594.87" font-size="13.7" font-weight="bold" fill="#000" text-anchor="end" textLength="44.75" lengthAdjust="spacingAndGlyphs">34,000</text>
<text x="574.8" y="627.21" font-size="13.7" font-weight="bold" fill="#000" text-anchor="end" textLength="44.75" lengthAdjust="spacingAndGlyphs">32,000</text>
<text x="574.8" y="659.56" font-size="13.7" font-weight="bold" fill="#000" text-anchor="end" textLength="44.75" lengthAdjust="spacingAndGlyphs">30,000</text>
<text x="574.8" y="691.9" font-size="13.7" font-weight="bold" fill="#000" text-anchor="end" textLength="44.75" lengthAdjust="spacingAndGlyphs">28,000</text>
<text x="1046.9" y="465.5" font-size="13.7" font-weight="bold" fill="#000" textLength="24.45" lengthAdjust="spacingAndGlyphs">110</text>
<text x="1046.9" y="503.23" font-size="13.7" font-weight="bold" fill="#000" textLength="24.45" lengthAdjust="spacingAndGlyphs">100</text>
<text x="1046.9" y="540.97" font-size="13.7" font-weight="bold" fill="#000" textLength="16.3" lengthAdjust="spacingAndGlyphs">90</text>
<text x="1046.9" y="578.7" font-size="13.7" font-weight="bold" fill="#000" textLength="16.3" lengthAdjust="spacingAndGlyphs">80</text>
<text x="1046.9" y="616.43" font-size="13.7" font-weight="bold" fill="#000" textLength="16.3" lengthAdjust="spacingAndGlyphs">70</text>
<text x="1046.9" y="654.17" font-size="13.7" font-weight="bold" fill="#000" textLength="16.3" lengthAdjust="spacingAndGlyphs">60</text>
<text x="1046.9" y="691.9" font-size="13.7" font-weight="bold" fill="#000" textLength="16.3" lengthAdjust="spacingAndGlyphs">50</text>
<polyline points="593.75,603.1 596.02,602.43 597.36,601.1 598.3,607.12 599.1,597.08 600.71,597.08 602.05,594.4 603.39,589.05 604.46,585.03 605.79,587.71 607.4,590.39 608.47,601.1 609.41,604.44 610.75,598.42 612.09,595.74 613.83,591.73 615.43,589.05 616.77,589.72 618.38,593.07 619.71,588.38 621.45,591.73 623.2,595.74 624.53,593.73 626.14,593.07 627.75,588.38 629.49,585.7 630.16,585.03 631.76,589.05 633.1,593.07 634.84,597.08 636.18,601.1 637.92,604.44 639.26,607.79 640.6,608.46 642.47,611.14 643.81,610.47 644.61,599.09 645.95,598.42 647.29,598.42 648.23,607.79 649.16,615.82 650.23,621.84 651.84,623.85 653.18,625.19 654.92,622.51 656.66,623.85 658.53,621.84 660.27,621.17 662.01,618.5 663.62,616.49 665.22,615.15 666.96,610.47 668.3,605.11 669.24,597.08 670.98,596.41 671.92,599.09 673.66,597.08 675.66,596.41 677.27,595.07 678.61,589.72 680.35,589.05 682.09,591.06 683.7,591.06 685.3,592.4 687.44,592.4 688.78,595.74 689.72,601.1 691.06,597.08 692.4,595.74 694.14,595.07 695.74,593.73 697.35,596.41 698.69,595.07 700.43,597.08 701.77,601.1 703.51,600.43 705.38,601.1 707.12,597.75 708.46,597.08 709.8,602.43 711.14,601.1 712.47,607.79 714.21,609.13 715.82,606.45 717.43,605.11 718.5,601.1 719.84,593.73 721.44,593.07 722.94,595.74 724.68,593.07 726.42,590.39 728.03,588.38 729.37,585.7 730.98,582.36 732.31,585.7 734.05,587.04 735.79,589.05 737.4,592.4 739.01,593.73 740.75,593.07 742.09,589.05 743.02,583.7 744.76,582.36 746.5,583.03 747.84,587.71 749.18,593.07 750.52,591.73 751.86,585.7 753.46,582.36 755.07,581.02 756.41,579.68 757.75,573.66 759.08,569.64 760.82,567.63 762.56,566.96 764.17,565.63 765.78,564.29 767.52,564.96 769.26,563.62 770.86,562.95 772.47,566.3 773.81,570.98 775.55,568.97 776.89,570.31 778.63,568.3 780.23,570.31 781.57,575.66 782.91,581.02 784.52,581.02 786.26,581.69 787.59,584.36 788.93,587.04 790.67,582.36 792.28,577.67 793.89,575.66 795.63,575 797.37,578.34 798.97,580.35 800.04,582.36 801.65,579.68 803.26,578.34 805,579.01 806.33,575.66 807.67,578.34 809.41,578.34 811.02,582.36 812.36,588.38 813.96,589.72 815.3,589.72 816.64,593.73 817.98,596.41 819.72,597.08 821.46,599.76 821.99,605.11 823.33,599.76 824.67,602.43 826.01,597.08 827.75,594.4 829.09,593.07 830.43,594.4 832.17,591.06 833.77,589.72 834.84,595.74 836.18,601.77 837.79,604.44 839.39,603.77 841.14,607.79 842.47,615.15 843.81,610.47 845.15,605.11 846.49,595.74 847.83,589.05 849.57,587.71 851.17,587.04 852.01,591.1 853.75,585.74 855.35,581.73 856.69,579.72 857.36,572.36 859.1,573.7 860.71,572.36 862.31,571.02 864.05,569.01 865.79,567 867.4,567 869.01,567.67 870.08,565.66 871.15,552.95 872.75,552.95 874.36,554.96 875.7,555.63 877.44,552.28 879.18,550.94 880.12,548.26 881.05,538.89 882.79,535.55 884.53,536.22 885.47,530.86 886.41,539.56 887.75,534.21 889.49,533.54 891.23,531.53 892.83,529.52 894.44,528.86 896.18,528.86 897.92,529.52 899.26,533.54 900.86,532.87 902.47,530.19 904.21,531.53 905.55,529.52 907.29,532.87 908.89,535.55 910.5,534.88 911.84,528.19 913.18,524.17 914.92,526.18 916.26,526.85 918,522.83 919.6,519.49 921.21,516.81 922.28,522.83 923.35,516.14 924.96,514.8 926.3,516.81 927.9,513.46 929.64,512.79 931.38,512.12 931.92,520.16 933.26,513.46 934.59,512.12 936.33,514.8 938.07,513.46 939.41,506.77 941.02,505.43 942.62,506.1 944.36,508.11 946.1,506.77 947.71,507.44 949.32,513.46 950.39,515.47 951.99,512.12 953.73,512.12 955.07,508.78 956.41,508.11 957.75,512.12 959.49,511.45 960.43,508.11 961.36,501.42 962.43,496.06 963.77,499.41 964.84,502.09 966.45,502.09 967.52,502.75 968.46,496.06 970.2,497.4 971.54,499.41 972.88,505.43 974.21,515.47 975.55,510.79 977.16,510.12 978.5,510.12 979.57,517.48 980.91,518.82 981.84,525.51 983.26,528.19 985,528.86 986.74,526.18 988.34,521.49 989.95,516.81 991.29,520.16 992.62,518.15 993.96,521.49 995.3,517.48 996.64,527.52 998.38,514.8 1000.12,511.45 1001.73,508.11 1003.33,500.08 1005.07,500.75 1006.41,500.08 1008.15,494.05 1010.03,492.05 1011.77,493.39 1013.51,494.05 1014.84,505.43 1016.45,506.77 1018.06,508.78 1019.8,510.79 1021.14,522.83 1022.07,512.79 1023.14,514.8 1024.75,512.12 1026.49,511.45 1028.5,510.79 1030.1,510.52" fill="none" stroke="#1874C4" stroke-width="2.4" stroke-linejoin="round" stroke-linecap="round"/>
<polyline points="593.64,572.13 594.94,578.37 596.5,584 597.54,600.88 599.09,599.01 601.05,595.26 602.99,589.01 604.03,580.25 604.93,575.25 606.89,574 608.84,573.37 610.78,568.37 613.12,566.5 614.42,570.25 615.97,569 617.27,575.87 618.57,579 619.87,577.75 621.17,590.26 622.73,598.38 624.8,595.88 626.1,582.75 627.4,576.5 628.7,572.75 630.52,572.75 631.82,575.87 633.12,579.63 634.15,586.51 636.1,587.76 637.01,586.51 638.05,595.88 639.61,587.76 641.29,589.01 642.98,583.37 644.54,577.75 646.1,572.75 648.18,571.25 649.08,577.75 650,588.38 651.68,585.88 652.99,588.38 654.28,592.76 655.19,606.51 655.97,617.77 656.87,622.77 658.83,620.27 660.12,619.02 661.16,608.39 662.72,611.52 663.76,614.02 665.06,606.51 666.36,599.01 667.66,598.38 668.57,590.26 669.86,580.25 671.17,572.13 672.85,570.25 675.05,571.5 676.75,574 678.56,560.24 680.25,564.63 681.94,569 683.76,570.87 685.06,579.63 686.75,580.87 688.69,577.75 689.99,594.01 691.94,585.88 693.89,589.01 694.92,601.51 696.22,616.52 697.78,610.27 699.34,600.26 701.02,597.14 702.33,607.77 703.62,610.27 705.57,609.02 707.13,601.51 708.81,605.88 710.51,604.01 712.32,602.76 714.01,595.26 715.7,602.76 717.26,611.52 718.82,617.77 720.51,611.52 721.8,603.38 723.75,601.51 725.31,600.88 726.61,609.02 728.3,617.77 729.59,621.52 731.28,611.52 732.84,604.01 734.14,605.88 735.44,607.77 736.74,600.88 737.38,610.27 738.69,614.02 740.63,613.39 741.93,619.02 743.23,611.52 744.79,608.39 746.48,610.89 747.77,605.26 749.08,599.01 749.98,595.88 751.67,599.01 752.96,591.51 754.27,585.26 755.56,589.01 757.25,592.76 758.81,594.01 760.11,589.01 761.41,582.13 762.97,579 764.66,574.63 766.34,574 767.9,570.25 769.46,567.75 771.14,566.5 772.06,563.37 773.74,564.63 775.69,562.12 777.25,557.12 778.93,560.86 780.63,563.37 781.93,567.75 782.84,575.25 784.78,568.37 786.08,569 787.64,574 788.94,577.75 790.63,575.25 792.57,572.75 793.87,566.5 795.43,556.49 796.47,551.49 798.42,547.74 800.1,546.49 801.66,545.24 803.62,544.62 804.9,545.24 806.21,540.86 807.9,532.73 809.45,530.23 811.41,532.73 813.09,536.48 814.65,535.85 816.6,533.98 817.89,522.11 818.8,528.98 819.84,532.73 821.4,537.73 823.08,538.98 823.74,557.74 824.78,564 826.59,561.49 827.89,550.24 829.19,560.24 830.87,544.62 832.57,546.49 834.13,547.74 835.68,537.73 837.38,540.24 838.67,546.49 839.97,558.99 841.66,552.74 843.22,560.86 845.17,564 846.46,570.87 847.77,565.87 849.45,570.87 851.01,570.25 852.05,590.26 853.6,589.01 854.9,582.75 856.46,580.25 857.76,582.75 858.8,599.64 860.1,589.01 861.65,582.75 863.35,581.5 865.03,587.14 866.59,590.26 868.54,592.14 870.22,581.5 871.14,592.76 872.43,596.51 874.38,600.26 875.42,612.77 876.98,606.51 878.93,605.88 880.22,616.52 881.53,612.77 882.81,605.26 884.51,602.76 886.07,599.01 887.62,595.26 889.32,595.88 891,590.88 892.3,590.26 893.86,602.76 895.16,605.88 896.71,607.77 898.01,609.65 899.31,602.76 900.61,597.14 901.65,602.76 902.95,607.77 904.51,602.76 906.19,601.51 907.5,600.88 909.44,601.51 910.74,596.51 912.3,597.14 913.98,592.14 915.67,594.64 916.97,585.26 918.53,581.5 920.48,581.5 921.77,587.76 923.08,596.51 923.72,602.14 925.68,601.51 926.96,600.26 928.27,592.76 929.56,586.51 931.51,584 933.07,585.88 934.76,577.13 936.45,577.75 938.27,580.25 939.95,579 941.26,585.88 942.94,583.37 944.5,579 946.06,573.37 947.74,576.5 949.05,578.37 950.99,577.13 952.55,580.87 954.24,581.5 956.19,582.75 957.48,570.87 959.44,567.75 961.38,561.49 962.68,566.5 963.98,570.25 965.92,566.5 967.61,567.13 968.91,562.75 971.11,560.24 972.42,553.99 974.11,552.74 975.4,547.74 975.66,547.12 977.22,547.74 978.9,552.74 980.6,550.24 982.16,552.74 984.1,552.74 985.41,562.75 987.35,563.37 989.29,562.75 990.99,562.12 992.54,558.99 993.84,558.36 995.4,561.49 997.08,565.87 997.74,575.87 999.3,580.25 1001.37,579.63 1003.19,577.13 1004.88,579.63 1006.57,577.75 1008.39,579 1010.07,574 1011.76,572.75 1013.32,574 1014.62,579.63 1016.18,585.26 1017.86,577.75 1019.55,574 1020.85,575.25 1022.15,582.75 1023.45,590.26 1025.01,598.38 1026.57,595.26 1028.25,589.01 1029.56,584 1030.85,580.87" fill="none" stroke="#C00000" stroke-width="2.4" stroke-linejoin="round" stroke-linecap="round"/>
<line x1="696.25" y1="469.6" x2="728.75" y2="469.6" stroke="#1874C4" stroke-width="2.25"/>
<text x="733.75" y="474.6" font-size="14.4" fill="#606060" textLength="42.5" lengthAdjust="spacingAndGlyphs">道琼斯</text>
<line x1="828.75" y1="469.6" x2="860" y2="469.6" stroke="#C00000" stroke-width="2.25"/>
<text x="864.5" y="474.6" font-size="14.4" fill="#606060" textLength="72.5" lengthAdjust="spacingAndGlyphs">WTI原油(R)</text>
<line x1="65.4" y1="1006.2" x2="474.3" y2="1006.2" stroke="#D9D9D9" stroke-width="1.4"/>
<line x1="66.4" y1="1006.2" x2="66.4" y2="1011.4" stroke="#D9D9D9" stroke-width="1.6"/>
<text x="66.6" y="1032" font-size="13.7" font-weight="bold" fill="#000" text-anchor="middle" textLength="62.3" lengthAdjust="spacingAndGlyphs">2023/1/1</text>
<line x1="159.06" y1="1006.2" x2="159.06" y2="1011.4" stroke="#D9D9D9" stroke-width="1.6"/>
<text x="159.26" y="1032" font-size="13.7" font-weight="bold" fill="#000" text-anchor="middle" textLength="62.3" lengthAdjust="spacingAndGlyphs">2023/5/1</text>
<line x1="254.04" y1="1006.2" x2="254.04" y2="1011.4" stroke="#D9D9D9" stroke-width="1.6"/>
<text x="254.24" y="1032" font-size="13.7" font-weight="bold" fill="#000" text-anchor="middle" textLength="62.3" lengthAdjust="spacingAndGlyphs">2023/9/1</text>
<line x1="348.25" y1="1006.2" x2="348.25" y2="1011.4" stroke="#D9D9D9" stroke-width="1.6"/>
<text x="348.45" y="1032" font-size="13.7" font-weight="bold" fill="#000" text-anchor="middle" textLength="62.3" lengthAdjust="spacingAndGlyphs">2024/1/1</text>
<line x1="441.68" y1="1006.2" x2="441.68" y2="1011.4" stroke="#D9D9D9" stroke-width="1.6"/>
<text x="441.88" y="1032" font-size="13.7" font-weight="bold" fill="#000" text-anchor="middle" textLength="62.3" lengthAdjust="spacingAndGlyphs">2024/5/1</text>
<text x="47" y="784.7" font-size="13.7" font-weight="bold" fill="#000" text-anchor="end" textLength="44.75" lengthAdjust="spacingAndGlyphs">12,000</text>
<text x="47" y="829.98" font-size="13.7" font-weight="bold" fill="#000" text-anchor="end" textLength="44.75" lengthAdjust="spacingAndGlyphs">11,000</text>
<text x="47" y="875.26" font-size="13.7" font-weight="bold" fill="#000" text-anchor="end" textLength="44.75" lengthAdjust="spacingAndGlyphs">10,000</text>
<text x="47" y="920.54" font-size="13.7" font-weight="bold" fill="#000" text-anchor="end" textLength="36.6" lengthAdjust="spacingAndGlyphs">9,000</text>
<text x="47" y="965.82" font-size="13.7" font-weight="bold" fill="#000" text-anchor="end" textLength="36.6" lengthAdjust="spacingAndGlyphs">8,000</text>
<text x="47" y="1011.1" font-size="13.7" font-weight="bold" fill="#000" text-anchor="end" textLength="36.6" lengthAdjust="spacingAndGlyphs">7,000</text>
<text x="489.4" y="784.7" font-size="13.7" font-weight="bold" fill="#000" textLength="24.45" lengthAdjust="spacingAndGlyphs">130</text>
<text x="489.4" y="813" font-size="13.7" font-weight="bold" fill="#000" textLength="24.45" lengthAdjust="spacingAndGlyphs">120</text>
<text x="489.4" y="841.3" font-size="13.7" font-weight="bold" fill="#000" textLength="24.45" lengthAdjust="spacingAndGlyphs">110</text>
<text x="489.4" y="869.6" font-size="13.7" font-weight="bold" fill="#000" textLength="24.45" lengthAdjust="spacingAndGlyphs">100</text>
<text x="489.4" y="897.9" font-size="13.7" font-weight="bold" fill="#000" textLength="16.3" lengthAdjust="spacingAndGlyphs">90</text>
<text x="489.4" y="926.2" font-size="13.7" font-weight="bold" fill="#000" textLength="16.3" lengthAdjust="spacingAndGlyphs">80</text>
<text x="489.4" y="954.5" font-size="13.7" font-weight="bold" fill="#000" textLength="16.3" lengthAdjust="spacingAndGlyphs">70</text>
<text x="489.4" y="982.8" font-size="13.7" font-weight="bold" fill="#000" textLength="16.3" lengthAdjust="spacingAndGlyphs">60</text>
<text x="489.4" y="1011.1" font-size="13.7" font-weight="bold" fill="#000" textLength="16.3" lengthAdjust="spacingAndGlyphs">50</text>
<polyline points="65.83,942.22 67.13,944.17 68.82,949.35 69.72,940.93 71.02,930.56 72.32,918.89 73.61,907.22 75.3,904.63 76.59,903.33 77.5,909.82 78.8,902.69 80.48,899.45 82.04,898.8 83.98,898.8 85.93,897.5 86.96,904.63 88.52,905.93 90.08,902.69 91.11,911.76 92.41,917.59 93.96,918.89 95.65,918.24 97.33,915 98.89,916.95 100.45,913.7 102.13,912.41 103.82,915 105.37,905.93 106.41,907.87 107.32,921.48 108.61,928.61 109.91,922.78 110.82,916.3 111.85,907.87 112.89,917.59 114.19,920.19 115.74,917.59 117.04,923.43 118.59,924.72 119.89,921.48 121.58,918.24 122.48,927.96 123.52,933.8 124.56,935.09 126.11,929.91 127.41,926.67 128.71,917.59 130,914.74 131.95,915 133.63,914.35 135.19,915 136.74,916.3 138.04,918.89 139.34,925.37 141.02,920.19 142.97,918.89 144.91,915 146.6,913.7 148.15,915.65 149.71,914.35 150.74,920.19 152.04,925.37 153.34,929.91 154.63,934.45 156.19,935.74 157.87,931.85 159.56,935.74 160.86,938.98 162.41,934.45 163.97,932.5 165.65,931.85 166.56,942.22 167.6,950.65 169.15,950 170.45,954.54 171.74,950.65 173.43,949.35 174.73,953.89 176.02,957.78 176.67,964.91 177.97,959.08 179.26,953.89 180.82,954.54 182.5,953.89 184.19,950 185.75,944.82 187.69,943.52 189.63,944.17 191.19,946.11 192.88,937.04 194.17,933.15 195.83,933.98 197.52,933.34 199.07,933.98 200.11,941.11 201.67,942.41 202.96,945 204.52,947.6 205.56,951.48 206.85,946.3 208.41,945 210.09,942.41 211.39,940.47 213.07,941.11 214.37,945.65 215.28,929.45 216.58,928.15 217.87,935.93 219.17,938.52 220.85,940.47 222.41,939.82 223.96,937.22 225.26,932.04 226.3,935.28 227.59,926.85 228.89,922.96 230.19,929.45 231.48,936.58 232.78,935.28 234.33,941.11 236.02,942.41 237.32,946.3 239,946.95 240.56,948.89 241.85,952.78 243.41,948.89 245.09,947.6 246.39,941.11 247.69,939.82 248.98,943.71 250.67,941.11 252.22,939.17 253.78,938.52 255.47,937.87 257.15,939.17 258.45,943.71 260,950.19 261.3,942.41 262.85,941.11 264.54,940.47 266.23,943.06 267.78,943.71 269.34,946.3 271.02,947.6 272.32,951.48 274,954.08 274.91,956.02 275.56,948.89 276.6,955.37 277.89,957.97 279.19,963.15 280.48,964.45 281.78,957.97 283.34,955.37 284.89,960.56 286.58,962.5 288.26,961.86 289.82,960.56 291.37,962.5 293.06,960.56 294.36,956.67 296.04,960.56 297.6,955.37 299.54,954.73 301.23,953.43 302.78,951.48 304.73,949.54 306.02,952.78 307.32,956.02 308.62,958.61 309.91,954.08 311.21,950.19 312.5,947.6 313.8,948.89 315.1,941.11 316.78,939.17 318.34,942.41 319.89,939.82 321.58,941.11 322.88,937.87 324.17,932.69 326.42,937.37 328.41,941.96 330.4,943.49 332.24,945.02 333.77,935.84 335.3,937.37 337.13,933.55 339.12,932.78 341.11,932.78 342.94,929.72 344.17,928.19 345.7,932.78 347.53,935.84 349.37,937.37 351.36,938.9 352.89,941.96 354.88,942.72 356.71,945.02 358.55,945.78 360.08,943.49 360.99,947.31 362.83,944.25 364.67,945.02 366.2,937.37 367.72,935.84 369.25,932.78 371.24,935.84 372.77,938.9 374.76,941.96 376.29,945.78 378.13,951.14 379.96,949.61 381.49,951.14 383.02,945.02 384.55,940.43 386.08,937.37 387.61,932.78 389.14,935.84 390.67,938.14 392.66,938.9 394.65,937.37 396.48,936.61 398.32,937.37 399.54,932.78 401.38,933.55 403.37,930.49 404.13,922.07 405.35,911.37 406.88,909.84 408.72,914.43 410.55,920.54 412.54,921.31 414.53,920.54 416.37,920.54 418.2,917.49 419.73,912.9 420.65,899.89 422.49,896.84 424.32,894.54 425.85,898.37 427.38,894.54 428.91,890.72 430.13,893.01 431.66,883.83 433.5,874.66 435.03,876.19 436.56,880.77 438.09,873.13 439.62,865.48 440.54,862.42 442.07,873.13 443.14,877.72 445.12,873.13 446.96,869.3 448.18,873.13 449.71,867.01 451.55,860.89 453.08,854.77 454.3,836.41 455.37,829.53 456.6,825.71 457.67,830.3 458.43,850.95 459.96,852.48 461.49,847.89 463.02,844.83 464.09,853.24 465.01,863.95 466.54,865.48 468.07,861.65 469.6,862.42 470.21,879.24 471.74,875.42 472.96,874.66" fill="none" stroke="#1874C4" stroke-width="2.4" stroke-linejoin="round" stroke-linecap="round"/>
<polyline points="65.96,920.05 67.17,924.73 68.62,928.95 69.59,941.61 71.04,940.21 72.87,937.39 74.68,932.71 75.65,926.14 76.49,922.39 78.31,921.45 80.13,920.98 81.94,917.23 84.12,915.82 85.33,918.64 86.79,917.7 88,922.85 89.21,925.2 90.42,924.26 91.63,933.64 93.08,939.74 95.02,937.86 96.23,928.02 97.44,923.33 98.65,920.51 100.35,920.51 101.56,922.85 102.77,925.67 103.74,930.83 105.55,931.77 106.4,930.83 107.37,937.86 108.83,931.77 110.4,932.71 111.98,928.48 113.43,924.26 114.88,920.51 116.82,919.39 117.66,924.26 118.51,932.23 120.08,930.36 121.3,932.23 122.51,935.52 123.36,945.84 124.08,954.28 124.93,958.03 126.75,956.15 127.96,955.21 128.93,947.24 130.38,949.59 131.35,951.46 132.56,945.84 133.77,940.21 134.98,939.74 135.84,933.64 137.04,926.14 138.26,920.05 139.83,918.64 141.88,919.57 143.46,921.45 145.16,911.13 146.73,914.42 148.3,917.7 150,919.1 151.21,925.67 152.79,926.6 154.6,924.26 155.81,936.46 157.63,930.36 159.45,932.71 160.41,942.08 161.63,953.34 163.08,948.65 164.53,941.15 166.1,938.81 167.32,946.77 168.52,948.65 170.34,947.71 171.8,942.08 173.37,945.36 174.95,943.96 176.64,943.02 178.21,937.39 179.79,943.02 181.24,949.59 182.7,954.28 184.28,949.59 185.48,943.49 187.3,942.08 188.75,941.61 189.96,947.71 191.54,954.28 192.74,957.09 194.32,949.59 195.77,943.96 196.99,945.36 198.2,946.77 199.41,941.61 200.01,948.65 201.23,951.46 203.04,950.99 204.25,955.21 205.46,949.59 206.92,947.24 208.49,949.11 209.7,944.9 210.92,940.21 211.76,937.86 213.34,940.21 214.54,934.58 215.76,929.89 216.96,932.71 218.54,935.52 219.99,936.46 221.21,932.71 222.42,927.55 223.87,925.2 225.45,921.92 227.02,921.45 228.47,918.64 229.92,916.76 231.49,915.82 232.35,913.47 233.92,914.42 235.74,912.54 237.19,908.79 238.76,911.6 240.34,913.47 241.55,916.76 242.4,922.39 244.21,917.23 245.42,917.7 246.88,921.45 248.09,924.26 249.67,922.39 251.48,920.51 252.69,915.82 254.14,908.32 255.11,904.57 256.93,901.75 258.5,900.82 259.96,899.88 261.78,899.41 262.98,899.88 264.2,896.59 265.77,890.5 267.22,888.62 269.04,890.5 270.61,893.31 272.07,892.84 273.89,891.44 275.09,882.53 275.94,887.69 276.91,890.5 278.36,894.25 279.93,895.19 280.54,909.26 281.51,913.95 283.21,912.07 284.42,903.63 285.63,911.13 287.2,899.41 288.78,900.82 290.23,901.75 291.68,894.25 293.26,896.13 294.46,900.82 295.69,910.2 297.25,905.51 298.71,911.6 300.53,913.95 301.73,919.1 302.95,915.35 304.52,919.1 305.97,918.64 306.94,933.64 308.4,932.71 309.61,928.02 311.06,926.14 312.27,928.02 313.24,940.68 314.45,932.71 315.9,928.02 317.48,927.08 319.05,931.3 320.51,933.64 322.33,935.05 323.9,927.08 324.75,935.52 325.95,938.33 327.77,941.15 328.74,950.53 330.19,945.84 332.01,945.36 333.22,953.34 334.44,950.53 335.64,944.9 337.22,943.02 338.67,940.21 340.12,937.39 341.7,937.86 343.27,934.11 344.48,933.64 345.94,943.02 347.15,945.36 348.6,946.77 349.81,948.18 351.02,943.02 352.23,938.81 353.2,943.02 354.41,946.77 355.87,943.02 357.44,942.08 358.66,941.61 360.47,942.08 361.68,938.33 363.13,938.81 364.7,935.05 366.28,936.93 367.49,929.89 368.94,927.08 370.77,927.08 371.97,931.77 373.19,938.33 373.79,942.56 375.61,942.08 376.81,941.15 378.03,935.52 379.23,930.83 381.05,928.95 382.51,930.36 384.08,923.8 385.66,924.26 387.35,926.14 388.92,925.2 390.14,930.36 391.71,928.48 393.16,925.2 394.62,920.98 396.19,923.33 397.41,924.73 399.22,923.8 400.67,926.6 402.25,927.08 404.06,928.02 405.27,919.1 407.1,916.76 408.91,912.07 410.12,915.82 411.33,918.64 413.14,915.82 414.72,916.3 415.93,913.01 417.98,911.13 419.21,906.44 420.77,905.51 421.99,901.75 422.23,901.29 423.68,901.75 425.25,905.51 426.83,903.63 428.28,905.51 430.09,905.51 431.32,913.01 433.13,913.47 434.94,913.01 436.52,912.54 437.97,910.2 439.18,909.72 440.63,912.07 442.2,915.35 442.81,922.85 444.27,926.14 446.21,925.67 447.9,923.8 449.47,925.67 451.05,924.26 452.74,925.2 454.31,921.45 455.89,920.51 457.35,921.45 458.56,925.67 460.01,929.89 461.58,924.26 463.16,921.45 464.37,922.39 465.58,928.02 466.79,933.64 468.25,939.74 469.7,937.39 471.27,932.71 472.49,928.95 473.69,926.6" fill="none" stroke="#C00000" stroke-width="2.4" stroke-linejoin="round" stroke-linecap="round"/>
<line x1="133" y1="788.8" x2="164.5" y2="788.8" stroke="#1874C4" stroke-width="2.25"/>
<text x="168.25" y="793.8" font-size="14.4" fill="#606060" textLength="40.5" lengthAdjust="spacingAndGlyphs">LME铜</text>
<line x1="255" y1="788.8" x2="287.5" y2="788.8" stroke="#C00000" stroke-width="2.25"/>
<text x="292" y="793.8" font-size="14.4" fill="#606060" textLength="72.25" lengthAdjust="spacingAndGlyphs">WTI原油(R)</text>
<line x1="562.5" y1="1009.6" x2="1039" y2="1009.6" stroke="#D9D9D9" stroke-width="1.4"/>
<text x="563.7" y="1035.8" font-size="13.7" font-weight="bold" fill="#000" text-anchor="middle" textLength="62.3" lengthAdjust="spacingAndGlyphs">2023/1/1</text>
<text x="699.61" y="1035.8" font-size="13.7" font-weight="bold" fill="#000" text-anchor="middle" textLength="62.3" lengthAdjust="spacingAndGlyphs">2023/6/1</text>
<text x="837.33" y="1035.8" font-size="13.7" font-weight="bold" fill="#000" text-anchor="middle" textLength="70.45" lengthAdjust="spacingAndGlyphs">2023/11/1</text>
<text x="974.14" y="1035.8" font-size="13.7" font-weight="bold" fill="#000" text-anchor="middle" textLength="62.3" lengthAdjust="spacingAndGlyphs">2024/4/1</text>
<text x="544.9" y="793.9" font-size="13.7" font-weight="bold" fill="#000" text-anchor="end" textLength="8.15" lengthAdjust="spacingAndGlyphs">3</text>
<text x="544.9" y="821.4" font-size="13.7" font-weight="bold" fill="#000" text-anchor="end" textLength="8.15" lengthAdjust="spacingAndGlyphs">3</text>
<text x="544.9" y="848.9" font-size="13.7" font-weight="bold" fill="#000" text-anchor="end" textLength="8.15" lengthAdjust="spacingAndGlyphs">2</text>
<text x="544.9" y="876.4" font-size="13.7" font-weight="bold" fill="#000" text-anchor="end" textLength="8.15" lengthAdjust="spacingAndGlyphs">2</text>
<text x="544.9" y="903.9" font-size="13.7" font-weight="bold" fill="#000" text-anchor="end" textLength="8.15" lengthAdjust="spacingAndGlyphs">2</text>
<text x="544.9" y="931.4" font-size="13.7" font-weight="bold" fill="#000" text-anchor="end" textLength="8.15" lengthAdjust="spacingAndGlyphs">2</text>
<text x="544.9" y="958.9" font-size="13.7" font-weight="bold" fill="#000" text-anchor="end" textLength="8.15" lengthAdjust="spacingAndGlyphs">2</text>
<text x="544.9" y="986.4" font-size="13.7" font-weight="bold" fill="#000" text-anchor="end" textLength="8.15" lengthAdjust="spacingAndGlyphs">1</text>
<text x="544.9" y="1013.9" font-size="13.7" font-weight="bold" fill="#000" text-anchor="end" textLength="8.15" lengthAdjust="spacingAndGlyphs">1</text>
<text x="1054" y="794.1" font-size="13.7" font-weight="bold" fill="#000" textLength="20.8" lengthAdjust="spacingAndGlyphs">1.4</text>
<text x="1054" y="821.59" font-size="13.7" font-weight="bold" fill="#000" textLength="20.8" lengthAdjust="spacingAndGlyphs">1.3</text>
<text x="1054" y="849.08" font-size="13.7" font-weight="bold" fill="#000" textLength="20.8" lengthAdjust="spacingAndGlyphs">1.2</text>
<text x="1054" y="876.56" font-size="13.7" font-weight="bold" fill="#000" textLength="20.8" lengthAdjust="spacingAndGlyphs">1.1</text>
<text x="1054" y="904.05" font-size="13.7" font-weight="bold" fill="#000" textLength="20.8" lengthAdjust="spacingAndGlyphs">1.0</text>
<text x="1054" y="931.54" font-size="13.7" font-weight="bold" fill="#000" textLength="20.8" lengthAdjust="spacingAndGlyphs">0.9</text>
<text x="1054" y="959.02" font-size="13.7" font-weight="bold" fill="#000" textLength="20.8" lengthAdjust="spacingAndGlyphs">0.8</text>
<text x="1054" y="986.51" font-size="13.7" font-weight="bold" fill="#000" textLength="20.8" lengthAdjust="spacingAndGlyphs">0.7</text>
<text x="1054" y="1014" font-size="13.7" font-weight="bold" fill="#000" textLength="20.8" lengthAdjust="spacingAndGlyphs">0.6</text>
<line x1="1039" y1="787.8" x2="1039" y2="1010.1" stroke="#B3B3B3" stroke-width="1.5"/>
<line x1="1039" y1="788.4" x2="1044.2" y2="788.4" stroke="#B3B3B3" stroke-width="1.2"/>
<line x1="1039" y1="816.05" x2="1044.2" y2="816.05" stroke="#B3B3B3" stroke-width="1.2"/>
<line x1="1039" y1="843.7" x2="1044.2" y2="843.7" stroke="#B3B3B3" stroke-width="1.2"/>
<line x1="1039" y1="871.35" x2="1044.2" y2="871.35" stroke="#B3B3B3" stroke-width="1.2"/>
<line x1="1039" y1="899" x2="1044.2" y2="899" stroke="#B3B3B3" stroke-width="1.2"/>
<line x1="1039" y1="926.65" x2="1044.2" y2="926.65" stroke="#B3B3B3" stroke-width="1.2"/>
<line x1="1039" y1="954.3" x2="1044.2" y2="954.3" stroke="#B3B3B3" stroke-width="1.2"/>
<line x1="1039" y1="981.95" x2="1044.2" y2="981.95" stroke="#B3B3B3" stroke-width="1.2"/>
<line x1="1039" y1="1009.6" x2="1044.2" y2="1009.6" stroke="#B3B3B3" stroke-width="1.2"/>
<polyline points="563.83,915.56 565.13,914.26 566.43,923.34 567.33,935.65 569.02,933.71 570.96,935.65 572.52,936.95 573.82,928.52 575.5,927.23 577.19,926.58 578.48,918.15 579.39,923.34 580.69,922.69 581.98,916.86 583.93,916.6 585.87,916.6 587.82,916.6 589.11,920.74 590.67,925.93 592.35,931.76 594.04,935 595.59,938.24 596.89,933.71 598.19,927.23 599.22,919.45 600.78,918.15 602.33,916.86 604.02,915.56 605.71,916.21 607,918.15 608.56,922.04 609.85,923.34 611.41,930.47 612.45,923.34 614,922.69 615.69,923.98 617.37,919.45 618.93,916.21 620.48,912.97 622.17,911.02 623.47,918.15 624.76,923.98 626.06,922.69 627.35,922.04 628.26,932.41 629.3,947.97 630.85,946.67 632.15,950.56 633.45,953.8 634.74,949.26 636.04,942.78 637.73,942.78 639.41,942.78 640.97,937.6 642.52,933.71 643.82,931.11 645.11,920.74 646.15,912.97 647.19,907.78 648.74,906.48 650.04,904.54 651.6,905.84 653.28,906.48 654.58,903.89 655.87,900.65 657.17,901.95 658.47,900 659.76,900.65 661.06,907.78 662.36,914.26 663.65,920.74 665.34,920.1 666.63,914.91 667.54,925.93 668.19,933.71 669.74,932.41 671.43,931.76 673.12,931.76 674.41,932.41 674.93,942.78 675.97,947.32 677.26,944.08 678.56,938.89 679.86,937.6 680.5,942.78 681.8,947.32 683.1,948.62 684.39,944.08 685.69,941.49 686.99,936.3 688.67,937.6 689.97,941.49 691.52,937.6 692.82,933.71 693.89,934.54 695.19,931.95 696.74,932.6 697.78,939.73 698.82,944.26 700.11,939.73 701.41,935.84 702.96,932.6 704.26,933.89 705.82,929.36 707.11,933.89 708.8,937.78 710.09,939.73 711.39,935.19 713.07,931.95 714.63,931.95 716.19,931.3 717.48,923.52 718.78,921.58 720.46,923.52 722.15,925.47 723.96,930.65 725.26,925.47 726.95,924.17 728.63,923.52 730.19,922.23 731.48,918.34 733.04,916.39 734.72,914.45 736.41,911.21 737.71,907.97 739,906.02 740.56,910.56 742.11,912.5 743.41,907.97 745.09,905.37 747.04,904.08 748.08,899.54 749.63,898.24 751.19,896.3 752.87,895 754.17,891.76 755.47,889.17 756.11,897.6 757.41,889.82 758.97,887.22 760.65,890.47 761.95,885.93 763.24,880.74 764.54,876.85 765.84,873.61 767.13,872.32 768.43,875.56 769.34,882.04 770.63,878.15 771.93,882.04 772.71,875.56 773.61,883.34 774.91,888.52 775.56,890.47 777.11,885.93 778.8,883.98 780.1,885.93 780.74,880.74 782.3,878.15 783.6,874.26 784.89,871.67 786.19,869.08 786.58,861.3 787.87,858.7 789.56,859.35 791.11,860.65 792.41,857.41 793.71,852.22 793.97,841.85 795.65,837.96 797.34,835.37 798.24,845.74 799.15,856.11 800.45,858.7 801.49,860.65 802.52,857.41 803.82,858.7 804.73,862.59 805.63,857.41 806.67,850.93 807.71,847.69 809.91,847.69 812.5,847.69 814.71,847.69 815.75,856.11 816.78,866.48 817.69,874.91 818.6,874.26 819.63,878.15 820.93,874.26 822.23,867.78 823.52,863.89 824.54,860 825.83,857.41 827.13,856.11 828.43,858.7 829.72,862.59 831.02,867.78 831.67,871.67 832.96,869.08 834.91,869.72 836.2,875.56 837.5,879.45 838.8,874.91 840.09,876.85 841.39,880.74 842.3,891.11 843.33,896.95 844.63,902.78 846.58,902.13 847.87,902.78 848.78,898.24 850.08,900.19 851.11,907.97 852.15,917.04 853.45,911.86 854.74,906.67 856.04,904.73 857.33,908.61 858.63,907.97 860.19,911.21 861.48,913.8 862.52,907.97 863.43,905.37 864.33,911.86 865.37,916.39 866.93,920.93 868.61,921.58 870.3,921.58 871.85,920.93 873.41,920.93 874.45,927.41 875.74,936.49 876.39,926.11 877.69,924.17 879.37,921.58 880.93,918.98 882.48,916.39 884.17,917.04 885.85,919.63 887.41,913.15 888.45,915.74 889.74,923.52 890.65,927.41 892.34,926.76 893.89,928.06 895.19,919.63 896.48,921.58 897.78,924.82 899.34,926.11 900.37,919.63 901.67,915.74 902.71,913.8 904,918.34 905.3,920.93 906.86,921.58 908.41,916.39 910.1,917.04 911.78,915.1 913.08,913.15 914.37,907.97 915.67,904.08 916.97,902.78 918.26,905.37 919.82,907.97 921.11,915.74 922.67,918.98 924.36,920.93 925.65,917.69 927.34,913.8 929.54,913.8 931.49,913.8 934.08,913.54 935.37,907.97 936.67,901.48 937.97,899.54 939.52,900.19 940.82,899.54 942.5,903.43 943.8,898.89 945.49,897.6 947.04,895 948.6,891.76 950.37,895.74 951.93,893.15 953.22,893.8 954.91,896.39 956.21,889.91 957.5,889.26 958.41,881.48 960.09,884.72 961.78,883.43 963.34,882.78 964.89,887.96 966.58,887.32 968.26,885.37 969.56,887.96 971.11,882.78 972.41,878.89 974.35,879.54 975.65,871.76 977.34,871.76 979.15,873.06 980.84,872.41 982.52,869.17 984.34,867.87 986.02,869.82 987.71,870.46 989,871.11 989.52,880.19 990.56,877.59 991.86,882.13 993.15,885.37 994.45,878.89 995.74,875.65 997.3,875.65 998.98,877.59 1000.93,878.89 1002.49,878.89 1003.78,883.43 1005.08,888.61 1006.37,893.15 1007.67,895.09 1008.97,891.21 1010.26,889.26 1011.56,891.85 1013.24,893.15 1014.93,893.15 1016.49,891.21 1018.43,890.56 1019.73,897.04 1021.02,899.63 1022.32,900.93 1024,898.34 1025.3,895.09 1026.86,891.85 1027.89,896.39 1029.19,899.63 1030.49,902.22 1031.39,906.11 1032.04,913.89 1033.34,913.24 1034.38,908.71 1035.93,907.41 1037.23,907.41 1038.52,900.93" fill="none" stroke="#1874C4" stroke-width="2.4" stroke-linejoin="round" stroke-linecap="round"/>
<polyline points="563.44,915.56 565.13,919.45 566.82,922.04 568.11,916.86 569.67,916.21 571.61,913.61 573.56,912.32 575.5,914.91 577.45,915.56 579,911.67 580.69,911.02 582.63,911.67 584.58,911.93 586.52,911.93 588.46,911.67 589.76,911.02 591.06,915.56 591.96,919.45 593.65,919.45 595.59,919.19 597.15,920.74 598.45,918.15 599.74,919.45 601.43,923.34 603.11,920.74 604.41,914.91 605.71,912.32 607.26,911.02 609.21,907.78 611.15,908.43 613.09,909.73 615.04,911.67 616.98,908.43 618.67,906.48 620.48,908.43 621.78,909.73 623.47,904.54 625.41,902.6 627.35,900.65 628.65,900 629.95,908.43 631.63,907.78 633.19,911.02 634.74,913.61 636.04,918.15 637.73,916.21 639.67,915.56 641.61,912.97 643.3,914.26 644.6,918.15 646.15,920.74 647.71,922.69 649.39,926.58 651.08,925.93 652.63,927.87 654.19,929.17 655.87,930.47 657.56,929.17 659.11,926.58 660.67,927.87 662.36,935 663.65,937.6 664.95,940.84 666.89,941.49 668.84,943.43 670.78,944.08 672.73,944.08 674.02,947.97 675.32,945.37 676.62,942.78 677.91,940.84 679.21,942.78 680.5,947.32 681.8,949.26 683.1,946.67 684.39,944.08 686.08,941.49 687.63,945.37 689.19,947.32 690.88,949.26 692.17,954.45 693.89,958.52 695.44,955.28 697.13,956.58 698.43,954.63 699.72,951.39 701.41,948.15 702.96,946.21 704.52,945.56 706.2,942.97 707.5,942.32 709.19,944.91 710.48,940.37 712.04,936.49 713.33,935.84 714.89,937.78 716.58,939.73 718.26,942.32 720.08,942.97 721.76,943.62 723.45,940.37 725.26,939.73 726.95,939.08 728.63,938.43 730.83,938.43 731.48,942.97 733.04,944.91 734.72,944.91 736.02,941.02 737.71,937.78 739,937.13 740.56,941.67 741.85,942.32 743.41,937.78 745.09,935.19 746.78,934.54 748.34,931.95 749.89,931.95 751.58,932.6 753.26,931.95 754.82,931.95 755.85,936.49 756.37,940.37 758.06,939.73 760,941.02 761.95,942.97 763.89,944.26 765.45,945.56 767.13,942.97 768.82,941.02 770.63,942.32 772.32,943.62 774,941.02 775.56,941.02 777.11,940.37 778.8,943.62 780.1,942.97 781.39,939.08 782.69,936.49 784.37,936.49 785.93,937.13 786.58,934.54 787.87,937.78 789.17,940.37 791.11,938.43 792.67,937.13 794.36,935.19 796.04,933.24 797.6,932.86 799.54,932.86 800.84,933.24 802.13,937.78 803.43,940.37 804.73,943.62 806.67,942.97 808.62,942.71 810.56,942.71 812.5,942.71 814.45,942.71 816.39,944.91 818.08,947.5 819.63,946.21 821.19,944.91 822.88,943.62 824.93,946.86 826.48,947.5 828.04,949.45 829.07,950.1 830.63,946.21 831.93,941.67 833.61,939.73 835.3,939.73 836.85,939.08 838.15,936.49 839.7,935.19 841.39,935.84 843.07,936.49 844.63,932.6 846.19,930.65 847.87,931.3 849.56,928.71 850.85,924.82 852.41,926.11 853.96,924.17 855.65,923.52 857.33,926.11 858.89,924.82 860.45,926.11 861.74,928.71 863.43,928.06 865.11,928.71 866.67,930.65 868.22,931.95 869.26,921.58 870.82,920.93 872.5,921.58 874.19,920.28 875.09,928.71 877.04,928.06 878.98,927.41 880.67,928.06 882.22,924.82 883.78,922.87 885.47,922.49 887.41,922.23 889.35,922.23 891.3,922.87 892.85,920.28 894.15,919.63 895.45,920.93 896.74,923.52 898.43,925.47 899.73,930 901.41,928.71 903.23,928.71 904.91,928.71 906.6,929.36 907.5,931.95 908.41,928.71 910.1,929.36 911.78,928.06 913.34,925.47 914.89,924.82 916.58,924.82 918.26,928.71 919.56,931.95 921.11,933.89 923.06,933.24 925,932.6 926.95,931.95 928.89,931.69 931.49,931.69 933.82,931.95 935.37,933.89 936.67,936.49 937.71,939.08 939.26,935.84 940.82,937.13 942.5,939.08 943.8,935.19 945.49,937.13 947.04,938.43 948.6,938.43 950.37,941.11 951.93,943.06 953.61,946.95 955.3,947.6 956.85,947.6 958.15,951.49 959.19,954.73 960.74,954.08 962.04,951.49 963.59,948.89 965.28,947.86 967.22,948.24 968.52,948.89 969.17,954.73 970.47,955.37 972.15,959.26 973.71,957.97 975.65,956.67 977.6,956.41 978.89,955.37 980.19,951.49 981.74,948.89 983.43,947.34 985.11,946.95 986.93,946.95 988.61,943.71 990.56,943.71 992.11,943.71 993.8,945 995.48,943.71 997.3,943.45 998.98,944.36 1000.93,945.65 1002.49,944.74 1004.17,941.76 1005.86,939.82 1007.15,943.71 1008.71,943.71 1010.65,943.97 1012.6,943.71 1013.89,946.3 1015.19,942.41 1016.49,940.47 1018.43,939.17 1020.12,936.58 1021.67,936.58 1023.23,937.23 1024.91,938.26 1026.86,939.17 1028.41,941.11 1030.1,943.06 1032.04,944.36 1033.6,943.71 1035.28,944.36 1036.97,945 1038.52,948.89" fill="none" stroke="#C00000" stroke-width="2.4" stroke-linejoin="round" stroke-linecap="round"/>
<line x1="703" y1="798.8" x2="735" y2="798.8" stroke="#1874C4" stroke-width="2.25"/>
<text x="739.25" y="803.7" font-size="14.4" font-weight="bold" fill="#000" textLength="47" lengthAdjust="spacingAndGlyphs">SC指数</text>
<line x1="807" y1="798.8" x2="839.25" y2="798.8" stroke="#C00000" stroke-width="2.25"/>
<text x="843" y="803.7" font-size="14.4" font-weight="bold" fill="#000" textLength="78.25" lengthAdjust="spacingAndGlyphs">螺纹钢指数</text>
<line x1="528.4" y1="768" x2="528.4" y2="1046" stroke="#F2F2F2" stroke-width="1"/>
<g fill="#b4b4b4"><ellipse cx="698" cy="997.5" rx="15.2" ry="12.8"/><path d="M689 1007 l-3.5 7 8-4z"/></g>
<g fill="#b4b4b4" stroke="#fff" stroke-width="1.6"><ellipse cx="711.5" cy="1004.5" rx="12.6" ry="10.6"/></g>
<path d="M719 1013 l3.2 5.2 -7.2-3z" fill="#b4b4b4"/>
<g fill="#fff"><circle cx="692.6" cy="993.6" r="1.9"/><circle cx="703.2" cy="993.6" r="1.9"/><circle cx="707.2" cy="1001.8" r="1.6"/><circle cx="715.8" cy="1001.8" r="1.6"/></g>
<text x="732" y="1013.2" font-size="30" fill="#ababab" textLength="312" lengthAdjust="spacingAndGlyphs">公众号 · 能源研发中心</text>
</svg>
</body></html>
